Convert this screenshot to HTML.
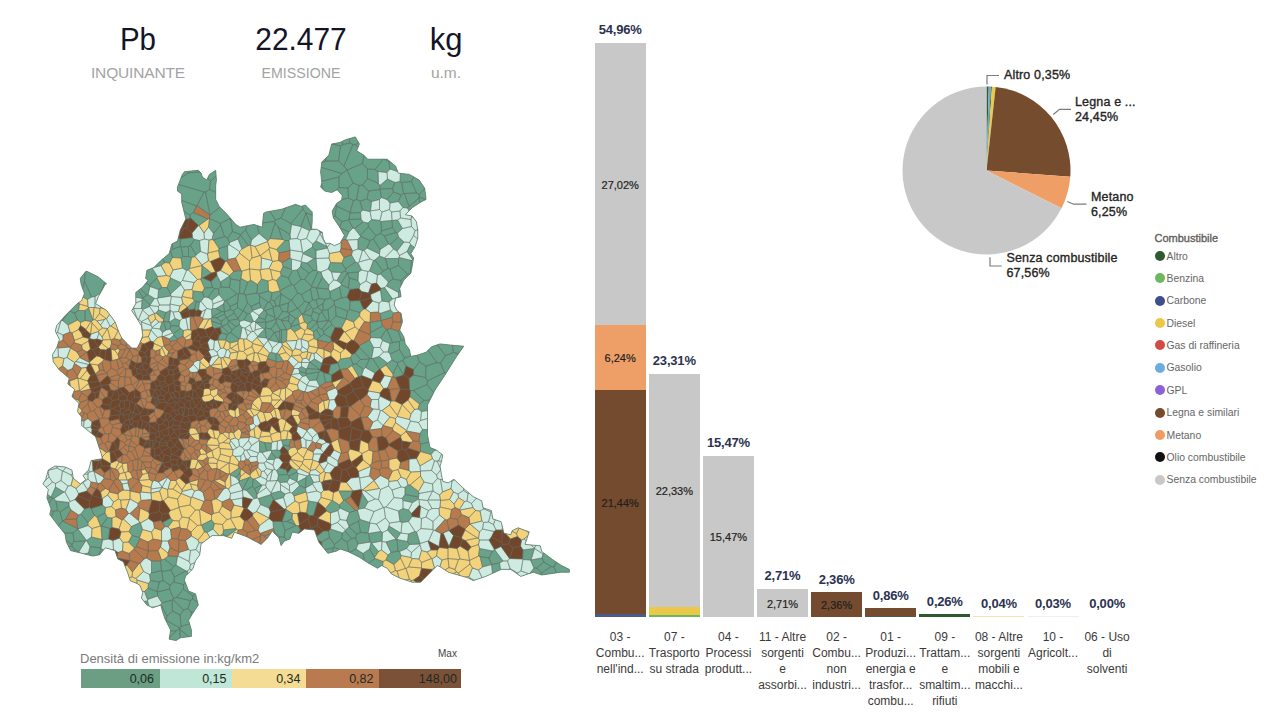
<!DOCTYPE html>
<html><head><meta charset="utf-8">
<style>
html,body{margin:0;padding:0;background:#fff;width:1280px;height:720px;overflow:hidden;position:relative;font-family:"Liberation Sans",sans-serif;}
.a{position:absolute;white-space:nowrap;}
.kpi{font-size:31px;color:#141428;line-height:32px;text-align:center;transform-origin:center;}
.kl{font-size:15.5px;color:#a3a3a3;line-height:18px;text-align:center;}
.bv{font-weight:bold;font-size:13px;color:#2b3250;line-height:14px;text-align:center;width:80px;letter-spacing:-0.2px;}
.iv{font-size:11px;color:#1f1f1f;-webkit-text-stroke:0.2px #1f1f1f;line-height:12px;text-align:center;width:51px;}
.cat{font-size:12px;color:#3b3a39;line-height:16px;text-align:center;width:60px;}
.pl{font-size:12.5px;color:#252423;line-height:14.5px;font-weight:normal;-webkit-text-stroke:0.35px #252423;letter-spacing:0.15px;}
.lg{font-size:10.4px;color:#666;line-height:12px;}
.dot{position:absolute;width:10px;height:10px;border-radius:50%;}
</style></head><body>
<!-- KPIs -->
<div class="a kpi" style="left:88px;top:24px;width:100px;transform:scaleX(0.95)">Pb</div>
<div class="a kl" style="left:78px;top:63.5px;width:120px;letter-spacing:-0.15px">INQUINANTE</div>
<div class="a kpi" style="left:241px;top:24px;width:120px;transform:scaleX(0.965)">22.477</div>
<div class="a kl" style="left:241px;top:63.5px;width:120px;transform:scaleX(0.915)">EMISSIONE</div>
<div class="a kpi" style="left:396px;top:24px;width:100px;transform:scaleX(1.0)">kg</div>
<div class="a kl" style="left:396px;top:64px;width:100px">u.m.</div>

<svg width="1280" height="720" style="position:absolute;left:0;top:0">
<defs><clipPath id="cp"><polygon points="182.4,174.4 184.4,171.7 198.3,170.3 201.1,173.1 202.5,177.2 206.7,180.0 209.4,174.4 215.7,170.3 216.4,180.0 215.7,185.6 215.7,199.4 219.2,206.4 226.1,213.3 235.8,224.4 240.0,227.2 253.9,224.4 262.2,227.2 263.6,213.3 266.4,211.9 281.7,209.2 295.6,204.3 301.1,206.4 305.3,205.0 312.2,211.9 312.2,221.7 311.5,229.0 316.7,229.4 322.2,232.2 323.3,238.9 325.6,243.3 330.0,243.3 334.4,245.6 340.0,243.3 344.4,235.6 340.0,227.8 333.3,217.8 332.2,211.1 336.7,203.3 341.7,200.0 342.2,195.6 337.2,189.7 331.7,192.5 324.7,191.1 320.6,186.9 321.9,182.8 320.6,171.7 321.9,161.9 328.9,155.0 331.7,143.9 340.0,142.5 345.6,139.7 355.3,136.9 359.4,143.9 356.7,150.8 363.6,155.0 367.8,159.2 387.2,159.2 395.6,166.1 398.3,173.1 409.4,174.4 419.2,180.0 424.7,188.3 426.1,199.4 420.6,202.2 412.2,207.8 405.3,214.7 412.2,216.1 416.4,221.7 417.8,230.0 417.8,238.3 415.0,246.7 410.8,253.6 413.6,257.8 412.2,266.1 410.8,273.1 403.9,280.0 399.7,288.3 401.1,296.7 395.6,298.1 394.2,305.0 396.9,310.6 401.1,313.3 402.5,321.7 399.7,330.0 403.9,336.9 405.3,343.9 409.4,349.4 410.8,356.4 417.8,355.0 426.1,352.2 431.7,346.7 440.0,343.9 450.0,345.0 463.8,346.2 457.5,355.0 445.0,375.0 435.0,390.0 427.5,405.0 427.5,435.0 430.0,447.5 436.2,450.0 442.8,455.0 441.4,461.9 440.0,466.1 441.4,474.4 442.8,481.4 448.3,482.8 453.9,479.3 465.0,489.7 473.3,496.7 481.7,500.8 483.1,507.8 491.4,510.6 492.8,518.9 501.1,521.7 502.5,527.2 503.9,533.3 510.8,534.7 512.2,530.6 518.1,527.8 529.2,531.9 525.0,544.4 540.3,545.8 541.7,551.4 547.2,555.6 552.8,559.7 561.1,565.3 569.4,569.4 569.4,572.2 561.1,572.2 541.7,575.0 533.3,572.2 520.8,576.4 510.8,569.4 501.1,569.4 485.8,576.4 473.3,580.6 467.8,577.8 448.3,572.2 440.0,566.7 437.2,565.6 434.4,568.3 426.1,576.7 420.6,582.2 412.2,582.2 399.7,578.1 391.4,573.9 387.2,568.3 381.7,565.6 377.5,568.3 367.8,562.8 359.4,557.2 348.3,551.7 340.0,548.9 336.7,551.1 327.8,553.3 318.9,542.2 314.4,530.0 304.4,528.9 298.9,533.3 292.2,532.2 290.0,538.9 284.4,541.1 281.1,545.6 278.9,537.8 272.2,531.1 267.8,537.8 261.1,544.4 246.7,536.7 234.4,532.2 231.7,538.3 223.3,535.6 212.2,535.6 201.1,543.9 199.7,555.0 195.6,560.6 192.8,568.9 185.8,575.8 184.4,580.0 188.6,591.1 195.6,593.9 198.3,605.0 192.8,613.3 188.6,620.3 191.4,630.0 191.4,636.4 180.3,637.8 176.1,640.6 169.2,639.2 170.6,630.0 169.2,627.2 165.0,618.9 162.2,610.6 160.8,605.0 152.5,607.8 146.9,605.0 141.4,598.1 142.8,592.5 140.0,585.6 137.2,583.6 130.3,580.8 127.5,572.5 123.3,561.7 117.8,558.9 115.0,550.6 105.3,547.8 99.7,554.7 92.8,556.1 81.7,553.3 70.6,550.6 66.4,542.2 65.0,533.9 58.1,525.6 49.7,514.4 51.1,508.9 46.9,497.8 48.3,489.4 42.8,483.9 45.6,479.7 48.3,470.0 55.0,466.0 65.0,467.0 71.9,470.0 73.3,478.3 80.3,483.9 85.8,479.7 83.0,475.6 88.6,470.0 91.2,460.6 102.5,458.7 101.1,453.3 98.3,445.0 95.6,436.7 88.6,431.1 81.7,425.6 81.7,417.2 77.5,411.7 78.9,403.3 71.9,396.4 74.7,389.4 67.8,383.9 69.2,378.3 59.4,370.0 53.2,361.7 52.5,354.7 56.7,347.8 59.4,339.4 55.3,331.1 56.7,325.6 65.0,315.8 77.5,303.3 81.7,300.6 84.4,293.6 81.0,283.9 80.3,278.3 85.8,271.4 87.2,271.4 98.3,276.9 106.7,283.9 105.3,284.2 98.3,296.7 95.6,303.6 106.7,310.6 110.8,316.1 115.0,321.7 119.2,332.8 121.9,338.3 127.5,343.9 131.7,348.1 137.2,348.1 140.0,342.5 142.8,335.6 141.4,325.8 137.2,318.9 131.7,310.6 135.8,303.6 135.8,292.5 142.8,286.9 148.3,280.0 145.6,278.6 146.9,270.3 153.9,267.5 160.8,260.6 169.2,253.6 171.9,243.9 177.5,241.1 180.3,230.0 181.7,227.2 185.8,218.9 184.4,213.3 181.7,202.2 181.7,193.9 177.5,191.1 177.5,186.9"/></clipPath></defs>
<polygon points="182.4,174.4 184.4,171.7 198.3,170.3 201.1,173.1 202.5,177.2 206.7,180.0 209.4,174.4 215.7,170.3 216.4,180.0 215.7,185.6 215.7,199.4 219.2,206.4 226.1,213.3 235.8,224.4 240.0,227.2 253.9,224.4 262.2,227.2 263.6,213.3 266.4,211.9 281.7,209.2 295.6,204.3 301.1,206.4 305.3,205.0 312.2,211.9 312.2,221.7 311.5,229.0 316.7,229.4 322.2,232.2 323.3,238.9 325.6,243.3 330.0,243.3 334.4,245.6 340.0,243.3 344.4,235.6 340.0,227.8 333.3,217.8 332.2,211.1 336.7,203.3 341.7,200.0 342.2,195.6 337.2,189.7 331.7,192.5 324.7,191.1 320.6,186.9 321.9,182.8 320.6,171.7 321.9,161.9 328.9,155.0 331.7,143.9 340.0,142.5 345.6,139.7 355.3,136.9 359.4,143.9 356.7,150.8 363.6,155.0 367.8,159.2 387.2,159.2 395.6,166.1 398.3,173.1 409.4,174.4 419.2,180.0 424.7,188.3 426.1,199.4 420.6,202.2 412.2,207.8 405.3,214.7 412.2,216.1 416.4,221.7 417.8,230.0 417.8,238.3 415.0,246.7 410.8,253.6 413.6,257.8 412.2,266.1 410.8,273.1 403.9,280.0 399.7,288.3 401.1,296.7 395.6,298.1 394.2,305.0 396.9,310.6 401.1,313.3 402.5,321.7 399.7,330.0 403.9,336.9 405.3,343.9 409.4,349.4 410.8,356.4 417.8,355.0 426.1,352.2 431.7,346.7 440.0,343.9 450.0,345.0 463.8,346.2 457.5,355.0 445.0,375.0 435.0,390.0 427.5,405.0 427.5,435.0 430.0,447.5 436.2,450.0 442.8,455.0 441.4,461.9 440.0,466.1 441.4,474.4 442.8,481.4 448.3,482.8 453.9,479.3 465.0,489.7 473.3,496.7 481.7,500.8 483.1,507.8 491.4,510.6 492.8,518.9 501.1,521.7 502.5,527.2 503.9,533.3 510.8,534.7 512.2,530.6 518.1,527.8 529.2,531.9 525.0,544.4 540.3,545.8 541.7,551.4 547.2,555.6 552.8,559.7 561.1,565.3 569.4,569.4 569.4,572.2 561.1,572.2 541.7,575.0 533.3,572.2 520.8,576.4 510.8,569.4 501.1,569.4 485.8,576.4 473.3,580.6 467.8,577.8 448.3,572.2 440.0,566.7 437.2,565.6 434.4,568.3 426.1,576.7 420.6,582.2 412.2,582.2 399.7,578.1 391.4,573.9 387.2,568.3 381.7,565.6 377.5,568.3 367.8,562.8 359.4,557.2 348.3,551.7 340.0,548.9 336.7,551.1 327.8,553.3 318.9,542.2 314.4,530.0 304.4,528.9 298.9,533.3 292.2,532.2 290.0,538.9 284.4,541.1 281.1,545.6 278.9,537.8 272.2,531.1 267.8,537.8 261.1,544.4 246.7,536.7 234.4,532.2 231.7,538.3 223.3,535.6 212.2,535.6 201.1,543.9 199.7,555.0 195.6,560.6 192.8,568.9 185.8,575.8 184.4,580.0 188.6,591.1 195.6,593.9 198.3,605.0 192.8,613.3 188.6,620.3 191.4,630.0 191.4,636.4 180.3,637.8 176.1,640.6 169.2,639.2 170.6,630.0 169.2,627.2 165.0,618.9 162.2,610.6 160.8,605.0 152.5,607.8 146.9,605.0 141.4,598.1 142.8,592.5 140.0,585.6 137.2,583.6 130.3,580.8 127.5,572.5 123.3,561.7 117.8,558.9 115.0,550.6 105.3,547.8 99.7,554.7 92.8,556.1 81.7,553.3 70.6,550.6 66.4,542.2 65.0,533.9 58.1,525.6 49.7,514.4 51.1,508.9 46.9,497.8 48.3,489.4 42.8,483.9 45.6,479.7 48.3,470.0 55.0,466.0 65.0,467.0 71.9,470.0 73.3,478.3 80.3,483.9 85.8,479.7 83.0,475.6 88.6,470.0 91.2,460.6 102.5,458.7 101.1,453.3 98.3,445.0 95.6,436.7 88.6,431.1 81.7,425.6 81.7,417.2 77.5,411.7 78.9,403.3 71.9,396.4 74.7,389.4 67.8,383.9 69.2,378.3 59.4,370.0 53.2,361.7 52.5,354.7 56.7,347.8 59.4,339.4 55.3,331.1 56.7,325.6 65.0,315.8 77.5,303.3 81.7,300.6 84.4,293.6 81.0,283.9 80.3,278.3 85.8,271.4 87.2,271.4 98.3,276.9 106.7,283.9 105.3,284.2 98.3,296.7 95.6,303.6 106.7,310.6 110.8,316.1 115.0,321.7 119.2,332.8 121.9,338.3 127.5,343.9 131.7,348.1 137.2,348.1 140.0,342.5 142.8,335.6 141.4,325.8 137.2,318.9 131.7,310.6 135.8,303.6 135.8,292.5 142.8,286.9 148.3,280.0 145.6,278.6 146.9,270.3 153.9,267.5 160.8,260.6 169.2,253.6 171.9,243.9 177.5,241.1 180.3,230.0 181.7,227.2 185.8,218.9 184.4,213.3 181.7,202.2 181.7,193.9 177.5,191.1 177.5,186.9" fill="#68a288"/>
<g clip-path="url(#cp)">
<defs>
<path id="pG" d="M666 234 656 282 536 294 521 263 459 72 59 -1728 621 -2384 674 143ZM666 234 656 282 661 287 681 292 686 289ZM666 234 686 289 700 286 674 143ZM674 143 621 -2384 632 -2397 722 277 712 290 706 289 700 286ZM722 277 632 -2397 2000 -4050 2731 -2349 876 158 771 269ZM728 311 712 290 722 277 771 269 755 302ZM556 320 617 338 633 332 651 322 661 287 656 282 536 294 538 300ZM677 322 681 292 661 287 651 322ZM686 289 681 292 677 322 688 332 706 289 700 286ZM725 327 694 340 694 340 688 332 706 289 712 290 728 311ZM767 318 755 302 771 269 876 158 801 309 778 323ZM318 369 202 341 85 299 -650 -338 -994 -653 59 -1728 459 72 434 177 405 279 376 346 347 366ZM376 346 405 279 400 344ZM414 353 400 344 405 279 434 177ZM421 363 521 263 459 72 434 177 414 353ZM684 347 633 332 651 322 677 322 688 332 694 340ZM750 339 735 338 725 327 728 311 755 302 767 318ZM750 339 767 318 778 323 780 338 774 345 756 343ZM778 323 801 309 809 337 808 338 801 345 780 338ZM801 309 876 158 2731 -2349 3233 -1230 1027 234 809 337ZM808 338 828 353 909 318 1027 234 809 337ZM411 384 408 384 347 366 376 346 400 344 414 353 421 363 419 379ZM678 354 684 347 633 332 617 338 641 363ZM735 357 735 338 725 327 694 340 706 366 718 371 725 370ZM757 367 756 343 750 339 735 338 735 357ZM808 338 828 353 823 363 803 365 800 363 801 345ZM487 384 488 384 538 300 536 294 521 263 421 363 419 379 461 398 462 398ZM678 375 661 395 652 393 641 363 678 354ZM678 375 696 376 706 366 694 340 694 340 684 347 678 354ZM757 367 735 357 725 370 737 382 760 379 760 378 760 371ZM760 371 775 358 790 365 785 377 760 378ZM787 384 802 390 807 387 803 365 800 363 790 365 785 377ZM803 365 823 363 833 386 809 387 807 387ZM909 318 838 389 833 386 823 363 828 353ZM561 340 582 390 603 407 649 396 652 393 641 363 617 338 556 320ZM678 375 696 376 697 396 670 403 661 395ZM697 396 707 401 713 399 718 371 706 366 696 376ZM734 398 737 382 725 370 718 371 713 399 720 402ZM743 403 759 399 763 395 760 379 737 382 734 398ZM760 379 763 395 774 399 787 384 785 377 760 378ZM774 399 780 406 797 403 802 390 787 384ZM838 396 818 413 809 387 833 386 838 389 839 394ZM909 318 838 389 839 394 926 433 1154 463 3647 -340 3233 -1230 1027 234ZM380 430 387 425 393 412 338 391 358 417ZM394 411 408 384 347 366 318 369 338 391 393 412ZM420 430 420 430 394 411 408 384 411 384ZM420 430 411 384 419 379 461 398ZM525 419 488 384 538 300 556 320 561 340 536 417ZM562 436 582 390 561 340 536 417 551 440ZM612 426 641 435 649 396 603 407 606 418 612 426ZM697 396 707 401 700 425 673 412 670 403ZM700 426 700 425 707 401 713 399 720 402 725 420 721 425ZM725 420 720 402 734 398 743 403 741 422 740 423ZM802 390 797 403 806 415 815 416 818 413 809 387 807 387ZM823 430 815 416 818 413 838 396 841 409 838 417ZM865 434 926 433 839 394 838 396 841 409ZM340 451 352 446 353 444 358 417 338 391 318 369 202 341 340 451ZM353 444 358 417 380 430 380 435 379 437ZM397 451 398 451 416 438 387 425 380 430 380 435ZM419 437 441 447 460 437 462 398 461 398 420 430 420 430 419 437ZM495 448 461 438 460 437 462 398 487 384 504 444ZM511 445 525 419 488 384 487 384 504 444ZM551 440 536 417 525 419 511 445 514 447 549 443ZM582 447 606 418 603 407 582 390 562 436ZM641 435 649 396 652 393 661 395 670 403 673 412 670 432 654 441 644 440ZM700 426 700 425 673 412 670 432 684 443 697 440 698 439ZM700 426 721 425 722 438 698 439ZM846 432 860 436 865 434 841 409 838 417ZM419 437 441 447 441 450 427 467 417 454ZM491 460 481 469 465 463 461 438 495 448ZM583 449 580 469 556 454 550 446 549 443 551 440 562 436 582 447ZM583 449 602 453 612 426 606 418 582 447ZM603 454 602 453 612 426 612 426 623 459 619 461ZM623 459 636 458 644 440 641 435 612 426ZM644 440 654 441 666 458 661 469 640 465 636 458ZM679 455 684 443 670 432 654 441 666 458 678 456ZM679 455 698 464 706 456 697 440 684 443ZM698 439 697 440 706 456 709 457 726 444 722 438ZM736 446 737 454 720 471 709 457 726 444ZM736 446 737 454 752 471 761 467 763 462 762 443 760 441 743 439ZM785 455 784 441 762 443 763 462ZM792 465 795 466 805 457 795 440 784 441 784 441 785 455ZM427 480 449 473 441 450 427 467 424 479ZM449 473 455 476 465 463 461 438 460 437 441 447 441 450ZM476 478 459 485 455 476 465 463 481 469 481 470ZM481 470 481 469 491 460 503 480 501 490 497 491ZM503 480 491 460 495 448 504 444 511 445 514 447 518 467ZM536 482 518 467 514 447 549 443 550 446 540 477ZM540 477 550 446 556 454 565 479ZM565 479 556 454 580 469 581 478 578 481 570 481ZM678 456 684 480 682 481 667 480 661 469 666 458ZM679 455 698 464 691 479 684 480 678 456ZM740 481 747 478 752 471 737 454 720 471 721 473ZM792 465 769 472 761 467 763 462 785 455ZM792 465 795 466 797 474 780 489 777 488 769 472ZM341 477 346 498 341 503 325 498 315 484 335 474ZM341 477 346 498 361 493 360 478 358 476ZM361 493 362 494 377 493 381 491 389 479 385 475 360 478ZM389 479 399 481 401 503 392 510 381 491ZM438 497 455 492 458 489 459 485 455 476 449 473 427 480ZM476 478 484 498 497 491 481 470ZM558 506 580 501 580 500 578 481 570 481 553 499ZM625 494 625 488 632 482 654 493 655 494 655 496 632 501ZM716 498 725 501 728 501 734 496 740 481 721 473 716 479ZM734 496 759 508 760 499 747 478 740 481ZM761 467 752 471 747 478 760 499 777 488 769 472ZM808 484 797 474 780 489 787 498 794 502ZM288 526 238 460 315 484 325 498 321 512ZM330 525 321 512 325 498 341 503 345 515 339 526ZM361 493 362 494 366 513 362 516 345 515 341 503 346 498ZM362 494 366 513 377 513 377 493ZM377 493 381 491 392 510 390 513 383 515 377 513ZM438 497 455 492 456 519 453 522 451 522 440 515 437 501ZM628 517 632 517 632 517 632 501 625 494 606 506 606 507ZM821 489 833 498 838 505 838 511 825 519 814 503ZM838 505 878 482 1114 481 955 571 919 584 838 511ZM322 531 304 536 289 529 288 526 321 512 330 525ZM366 513 362 516 365 536 373 541 377 540 379 537 383 515 377 513ZM566 533 564 525 580 516 583 518 583 539ZM603 524 601 533 618 546 627 541 614 526ZM614 526 627 541 634 541 632 517 628 517ZM691 542 691 538 684 526 661 525 656 538 663 544 683 545ZM688 515 684 526 691 538 711 524 703 510ZM695 546 717 544 723 540 716 526 711 524 691 538 691 542ZM766 542 750 520 747 521 739 542 755 550 761 548ZM776 537 766 542 750 520 759 512 769 516 771 517ZM780 538 797 531 797 517 771 517 776 537ZM797 531 815 548 821 547 823 521 798 515 797 517ZM825 519 838 511 919 584 916 585 821 547 823 521ZM280 559 269 565 268 566 252 570 232 563 216 549 176 468 152 396 238 460 288 526 289 529ZM299 570 280 559 289 529 304 536 315 553 314 556ZM404 531 403 556 406 556 423 546ZM459 552 461 558 480 561 482 557 484 542 482 541 467 543 459 551ZM562 551 577 556 585 541 583 539 566 533 561 544ZM585 541 594 540 602 559 588 571 583 569 577 556ZM594 540 602 559 609 559 618 546 601 533ZM609 559 623 572 636 543 634 541 627 541 618 546ZM695 546 682 567 674 561 683 545 691 542 695 546ZM695 546 699 556 716 561 717 544 695 546ZM780 538 786 558 777 564 761 548 766 542 776 537ZM780 538 786 558 802 561 815 548 797 531ZM299 570 280 559 269 565 293 590 296 589 300 573ZM299 570 314 556 324 575 317 579 300 573ZM361 565 341 556 334 575 341 588 362 569ZM422 563 425 575 409 576 401 558 403 556 406 556ZM422 563 425 575 429 577 437 578 442 574 441 564 434 551ZM459 552 441 564 442 574 459 575 461 558ZM477 588 474 588 459 575 461 558 480 561 479 587ZM479 587 480 561 482 557 496 564 487 588ZM501 560 496 564 487 588 491 590 514 586 515 569ZM515 569 514 586 517 588 537 582 536 562 523 558ZM562 551 577 556 583 569 560 581 553 561ZM621 578 603 589 595 586 588 571 602 559 609 559 623 572 624 574ZM624 574 623 572 636 543 642 544 645 554 634 576 633 576ZM657 578 634 576 645 554 658 570ZM695 546 699 556 697 576 683 570 682 567ZM699 556 716 561 720 569 718 577 700 579 697 576ZM786 558 802 561 803 573 797 585 773 572 777 564ZM802 561 803 573 878 601 887 602 912 589 916 585 821 547 815 548ZM162 592 153 597 129 597 114 588 -650 -338 85 299 152 396 176 468 169 562ZM183 594 169 562 162 592 175 599ZM183 594 169 562 176 468 216 549 201 586 190 593ZM230 599 228 601 214 602 204 598 201 586 216 549 232 563 230 598ZM230 598 232 563 252 570 260 592 259 596 250 606ZM252 570 260 592 285 597 286 596 268 566ZM268 566 269 565 293 590 286 596 286 596ZM317 579 316 596 342 592 341 588 334 575 324 575ZM389 602 393 603 399 604 402 603 408 594 405 584 386 582 385 597ZM425 575 429 577 416 595 408 594 405 584 409 576ZM438 589 437 578 429 577 416 595 424 600ZM442 574 437 578 438 589 447 600 449 602 452 601 474 588 459 575ZM539 604 536 604 519 592 517 588 537 582 544 585 542 599ZM542 599 544 585 559 582 562 588 549 602ZM581 600 562 588 562 588 559 582 560 581 583 569 588 571 595 586 583 600ZM618 606 625 600 621 578 603 589 609 603 618 605ZM632 600 638 597 633 576 624 574 621 578 625 600ZM633 576 634 576 657 578 660 583 661 596 650 599 638 597ZM660 583 661 596 668 602 683 596 679 574ZM679 574 683 570 697 576 700 579 694 594 683 596ZM764 602 761 580 762 577 769 575 785 598 778 604ZM797 594 797 585 803 573 878 601 806 602ZM159 608 153 597 129 597 139 622 149 626 157 621ZM286 596 286 596 300 610 300 611 299 613 285 619 283 617 284 601 285 597ZM296 589 293 590 286 596 300 610 309 597ZM389 602 393 603 389 618 377 620 377 619 375 614 375 614ZM397 619 399 604 393 603 389 618 393 622ZM461 619 449 624 447 608 449 602 452 601 460 613ZM449 624 444 623 432 617 447 608 449 624ZM460 613 452 601 474 588 477 588 475 606ZM461 619 467 622 475 615 475 606 460 613ZM475 615 486 622 495 606 491 590 487 588 479 587 477 588 475 606ZM500 627 505 622 505 621 502 613 495 606 486 622 486 622 495 627ZM495 606 491 590 514 586 517 588 519 592 519 605 502 613ZM505 621 502 613 519 605 522 615ZM528 620 531 621 546 616 547 614 539 604 536 604 527 619ZM527 619 536 604 519 592 519 605 522 615ZM552 612 559 612 559 611 562 588 562 588 549 602ZM539 604 547 614 552 612 549 602 542 599ZM581 600 562 588 559 611 577 606ZM575 624 565 623 559 612 559 611 577 606ZM583 600 595 586 603 589 609 603 596 617 595 617ZM578 625 595 617 583 600 581 600 577 606 575 624ZM618 606 623 615 608 626 618 605ZM618 605 609 603 596 617 604 628 604 628 606 628 608 626ZM618 606 625 600 632 600 636 613 635 615 626 618 623 615ZM636 613 646 607 650 599 638 597 632 600ZM650 599 661 596 668 602 669 609 656 619 646 621 646 607ZM644 622 646 621 646 607 636 613 635 615ZM671 613 669 609 668 602 683 596 694 594 700 602 699 619 695 622ZM720 625 699 619 700 602 719 601 720 602 727 618ZM114 588 -650 -338 -994 -653 -1771 -30 104 638 111 636ZM125 641 122 641 111 636 114 588 129 597 139 622ZM149 626 139 622 125 641 136 650 155 640ZM157 621 149 626 155 640 161 645 170 641 170 621ZM177 616 170 621 170 641 182 643 183 643 186 640 186 640ZM340 621 341 621 338 644 327 642 327 639 332 625ZM332 625 327 639 312 626 317 620ZM444 623 424 634 423 619 425 617 432 617ZM449 624 444 623 424 634 424 634 433 636 449 628ZM468 626 467 622 461 619 449 624 449 624 449 628 453 635 454 636ZM449 628 433 636 442 643 453 635ZM476 637 468 626 454 636 457 641 476 638ZM476 637 486 622 486 622 475 615 467 622 468 626ZM476 637 486 622 495 627 488 640 479 643 476 638ZM500 627 507 643 503 645 488 640 495 627ZM530 639 534 628 550 635 553 638 532 645 531 644ZM528 620 531 621 534 628 530 639 517 635 518 631ZM553 638 553 638 555 637 565 623 559 612 552 612 547 614 546 616 550 635ZM550 635 546 616 531 621 534 628ZM578 625 579 628 578 632 562 640 555 637 565 623 575 624ZM577 642 563 641 562 640 578 632ZM578 625 579 628 591 637 596 636 604 628 596 617 595 617ZM577 642 582 650 591 637 579 628 578 632ZM622 632 606 628 604 628 609 644 615 648 625 640ZM623 615 626 618 626 623 622 632 606 628 608 626ZM626 623 622 632 625 640 634 643 639 628ZM626 618 635 615 644 622 644 624 639 628 626 623ZM644 624 654 641 656 642 658 642 656 619 646 621 644 622ZM644 624 654 641 634 644 634 643 639 628ZM671 613 669 609 656 619 658 642 661 643 672 632ZM671 613 695 622 692 638 672 632ZM719 632 707 644 692 638 692 638 695 622 699 619 720 625ZM760 627 762 641 784 635 787 626 781 620ZM802 645 802 627 846 635 843 636 808 650 806 650ZM327 642 327 642 332 660 340 658 342 651 339 644 338 644ZM324 644 327 642 332 660 325 665 320 658ZM358 652 361 657 347 667 345 666 340 658 342 651ZM350 637 339 644 342 651 358 652 360 641ZM443 649 442 643 433 636 424 634 422 637 423 642ZM444 653 443 649 423 642 425 653 429 657 440 655ZM464 660 462 665 458 667 444 653 455 648ZM454 636 453 635 442 643 443 649 444 653 444 653 455 648 457 642 457 641ZM476 638 479 643 479 649 472 653 457 642 457 641ZM472 653 457 642 455 648 464 660ZM510 643 517 635 530 639 531 644 511 645ZM511 645 512 645 525 656 529 658 530 658 531 656 532 645 531 644ZM553 638 553 638 552 645 542 658 531 656 532 645ZM549 665 548 665 542 658 552 645 561 660 559 662ZM573 659 563 641 577 642 582 650 582 653 581 657 574 660ZM573 659 563 641 562 640 555 637 553 638 552 645 561 660 563 660ZM602 656 598 649 582 653 581 657 589 664ZM591 637 596 636 599 648 598 649 582 653 582 650ZM634 643 625 640 615 648 614 657 620 659 634 645 634 644ZM620 659 634 645 637 655 633 659 627 664ZM658 642 661 643 664 649 647 663 644 659 656 642ZM634 644 634 645 637 655 644 659 656 642 654 641ZM683 656 670 655 664 649 661 643 672 632 692 638 692 638ZM741 665 765 652 762 641 740 645ZM808 650 817 664 843 636ZM354 680 355 678 348 670 339 678 341 683ZM348 670 355 678 366 672 367 661 361 657 347 667ZM455 669 443 666 440 655 444 653 444 653 458 667ZM455 669 451 680 436 680 438 671 443 666ZM455 669 451 680 452 681 460 686 476 682 478 678 462 665 458 667ZM480 677 478 678 462 665 464 660 472 653 479 649 484 655ZM533 676 530 658 529 658 515 673 515 674ZM536 680 538 680 548 665 542 658 531 656 530 658 533 676ZM559 685 549 665 559 662 560 685ZM559 685 558 685 538 680 548 665 549 665ZM563 686 563 660 573 659 574 660 573 682 572 683 564 686ZM560 685 563 686 563 660 561 660 559 662ZM647 663 648 668 641 673 633 659 637 655 644 659ZM628 677 634 680 641 673 633 659 627 664 627 670ZM664 649 670 655 661 675 648 668 647 663ZM663 682 658 685 635 680 634 680 641 673 648 668 661 675ZM741 665 765 652 773 659 761 676 742 675 740 669ZM774 659 785 685 780 687 765 681 761 676 773 659ZM797 663 802 680 799 683 785 685 774 659 782 657ZM806 650 808 650 817 664 815 681 802 680 797 663ZM843 636 817 664 815 681 839 690 842 688 856 633 846 635ZM848 690 875 690 899 655 912 589 887 602 856 633 842 688ZM719 695 740 717 743 717 747 695 739 680 719 691ZM780 708 799 699 799 683 785 685 780 687 776 704ZM802 680 815 681 839 690 833 707 809 716 799 699 799 683ZM891 711 875 690 899 655 907 705ZM907 705 915 707 936 698 955 571 919 584 916 585 912 589 899 655ZM1494 717 3685 -269 3647 -340 1154 463 1114 481 955 571 936 698 1092 833 1132 834ZM535 717 552 723 552 707 543 705 539 706 536 713ZM552 723 553 724 567 722 558 709 555 706 552 707ZM712 728 721 719 710 706 704 709 701 715 706 728ZM719 695 710 706 721 719 739 718 740 717ZM784 720 795 725 806 721 809 716 799 699 780 708ZM848 690 874 725 852 732 839 724 833 707 839 690 842 688ZM848 690 875 690 891 711 881 726 874 725ZM639 739 620 724 619 725 614 737ZM640 739 644 728 644 727 629 718 620 724 620 724 639 739ZM680 739 676 726 661 729 657 748 663 750ZM681 739 695 737 704 731 706 728 701 715 681 718 676 725 676 726 680 739ZM712 728 727 739 723 751 720 753 717 753 704 731 706 728ZM712 728 727 739 731 735 739 718 721 719ZM743 717 745 717 759 738 750 746 731 735 739 718 740 717ZM772 730 775 726 758 713 745 717 759 738 760 738ZM786 748 795 729 795 725 784 720 775 726 772 730ZM795 725 806 721 812 732 807 750 807 750 795 729ZM809 716 833 707 839 724 827 739 812 732 806 721ZM881 726 891 711 907 705 915 707 927 761 903 756 889 745ZM915 707 927 761 1053 836 1092 833 936 698ZM612 746 613 748 612 751 605 753 599 747 599 743ZM612 746 599 743 597 737 603 733 612 738ZM612 746 613 748 638 744 640 741 640 739 639 739 614 737 612 738ZM613 748 638 744 633 760 619 761 612 751ZM640 741 647 745 651 765 640 772 639 772 633 760 638 744ZM647 745 657 748 663 750 663 763 651 765ZM786 748 795 729 807 750 791 755 786 753ZM839 724 827 739 827 750 851 755 852 732ZM874 725 881 726 889 745 855 762 851 755 852 732ZM818 757 827 750 851 755 855 762 854 769 827 781 821 781 819 779ZM855 762 854 769 868 786 873 787 903 756 889 745ZM839 808 848 801 827 781 821 781 820 793ZM858 800 868 786 854 769 827 781 848 801ZM1047 838 1053 836 927 761 903 756 873 787 909 818 956 840ZM836 818 843 823 861 820 862 819 858 800 848 801 839 808ZM862 819 909 818 873 787 868 786 858 800ZM838 883 841 888 863 883 867 876 863 867 855 859 845 859 840 867ZM863 867 867 876 892 879 954 841 899 846ZM542 901 534 902 529 885 543 886ZM534 902 524 905 519 904 519 882 529 885ZM563 880 566 890 578 892 582 879 573 879ZM576 902 581 896 578 892 566 890 566 892ZM869 901 863 883 841 888 841 903 862 909ZM883 898 892 879 867 876 863 883 869 901ZM560 901 554 900 543 901 543 905 552 916 558 916 562 908ZM552 916 549 919 535 919 543 905ZM472 955 478 962 481 953 480 945ZM472 955 461 950 460 948 478 936 482 938 480 945ZM575 949 557 950 555 961 560 965 574 964 579 956 578 952ZM575 946 572 939 559 936 553 941 557 950 575 949ZM596 947 594 963 579 956 578 952 594 944ZM594 944 578 952 575 949 575 946 584 935 594 941ZM498 955 485 979 485 980 492 980 505 973 506 958 501 954ZM478 962 498 955 485 979 478 965ZM514 988 524 970 523 970 509 977ZM509 977 523 970 509 958 506 958 505 973ZM612 955 595 964 599 971 611 976 611 976ZM619 949 627 965 625 968 611 976 612 955 614 952ZM-2504 896 -2975 902 -3329 1148 32 1028 102 994 85 981 73 978 -655 943ZM102 994 104 996 108 997 128 984 111 974ZM514 996 514 988 514 988 509 977 505 973 492 980 508 997ZM570 988 567 995 548 1000 547 999 542 989 542 987 561 982ZM611 976 612 984 588 992 584 986 599 971ZM690 1000 701 993 705 982 678 982 687 1001ZM837 998 825 1005 806 1001 804 997 810 989 837 994ZM810 975 810 989 837 994 838 987 837 983 820 970 816 970ZM65 1029 32 1028 102 994 102 994 104 996 93 1017ZM115 1021 107 1023 93 1017 104 996 108 997 112 1002ZM120 1024 115 1021 112 1002 138 1005 138 1012ZM521 1009 538 1016 547 999 542 989 517 997ZM619 1031 613 1026 617 1002 635 1005 627 1031ZM653 1022 651 1017 664 1001 665 1001 679 1010 680 1016 676 1021 661 1026ZM690 1000 711 1021 699 1025 680 1016 679 1010 687 1001ZM717 1016 718 1018 729 1016 736 1004 724 986ZM65 1029 93 1017 107 1023 99 1044ZM125 1042 115 1054 109 1055 99 1044 107 1023 115 1021 120 1024ZM125 1042 125 1042 120 1024 138 1012 142 1020 131 1039ZM169 1018 179 1015 182 1017 189 1031 176 1045 162 1028ZM194 1034 189 1031 182 1017 205 1010 211 1015 210 1026ZM202 1052 201 1052 194 1034 210 1026 215 1035 203 1052ZM584 1037 585 1027 572 1019 564 1043 564 1043 574 1043ZM715 1021 720 1039 717 1042 698 1052 693 1041 699 1025 711 1021ZM824 1033 823 1027 817 1020 806 1017 797 1022 800 1043 804 1045 817 1043ZM65 1029 32 1028 -3329 1148 -4577 2000 -3182 2589 95 1075 109 1055 99 1044ZM155 1057 155 1058 146 1066 128 1066 115 1054 125 1042 125 1042ZM155 1057 155 1058 156 1058 176 1051 176 1045 162 1028 157 1030 153 1038ZM224 1055 220 1057 203 1052 215 1035 224 1036ZM341 1036 325 1045 330 1053 336 1054 346 1041ZM409 1064 403 1050 423 1040 429 1047 426 1058 414 1065ZM559 1074 568 1074 570 1061 564 1043 564 1043 546 1043 547 1057 549 1065ZM591 1050 592 1051 570 1061 564 1043 574 1043ZM584 1037 574 1043 591 1050ZM721 1065 717 1042 698 1052 698 1054 714 1068ZM736 1066 721 1065 717 1042 720 1039 739 1045 740 1046ZM115 1054 109 1055 95 1075 118 1090 127 1077 128 1066ZM146 1066 128 1066 127 1077 144 1089 148 1083ZM156 1058 173 1081 171 1082 148 1083 146 1066 155 1058ZM217 1078 220 1057 203 1052 202 1052 204 1079 205 1080ZM258 1063 264 1071 279 1075 285 1059 281 1046 280 1045 263 1053ZM473 1059 454 1073 446 1068 447 1060 472 1057ZM529 1072 549 1065 559 1074 545 1084ZM597 1052 601 1060 589 1077 574 1081 568 1074 570 1061 592 1051ZM657 1062 659 1075 643 1084 629 1076 647 1062ZM661 1058 685 1066 683 1077 669 1089 659 1075 657 1062ZM685 1066 683 1077 694 1084 703 1077 690 1062ZM690 1062 691 1060 698 1054 714 1068 711 1076 703 1077ZM736 1066 721 1065 714 1068 711 1076 716 1088 740 1084 737 1067ZM765 1065 762 1063 737 1067 740 1084 742 1086 743 1086 764 1082ZM801 1066 778 1052 775 1060 792 1078 793 1079ZM840 1087 840 1088 819 1089 815 1083 817 1068 830 1063 833 1064ZM118 1090 95 1075 -3182 2589 -1622 3258 -387 1875 105 1158 121 1099ZM127 1077 118 1090 121 1099 144 1092 144 1089ZM148 1083 144 1089 144 1092 149 1099 158 1103 171 1082ZM202 1096 180 1093 173 1081 183 1074 204 1079 205 1080ZM280 1077 272 1093 269 1096 257 1084 264 1071 279 1075ZM460 1083 444 1110 434 1100 433 1079 439 1072 446 1068 454 1073ZM545 1084 559 1074 568 1074 574 1081 572 1107 540 1100 540 1100ZM572 1107 587 1134 614 1097 589 1077 574 1081ZM666 1096 645 1100 643 1084 659 1075 669 1089 668 1094ZM668 1094 691 1104 698 1105 698 1105 694 1084 683 1077 669 1089ZM694 1084 698 1105 712 1098 716 1088 711 1076 703 1077ZM793 1079 792 1078 772 1084 782 1105 796 1102 794 1079ZM794 1079 796 1102 799 1103 813 1097 819 1089 815 1083ZM144 1092 121 1099 105 1158 122 1144 149 1099ZM163 1109 158 1103 149 1099 122 1144 161 1121ZM192 1119 177 1106 163 1109 161 1121 175 1130 193 1122ZM202 1096 180 1093 177 1106 192 1119 203 1098ZM203 1098 192 1119 193 1122 199 1128 217 1114 215 1103ZM540 1100 565 1291 582 1306 587 1134 572 1107ZM638 1106 652 1166 651 1222 650 1227 617 1351 582 1306 587 1134 614 1097 615 1096ZM666 1096 664 1127 652 1166 638 1106 645 1100ZM666 1096 664 1127 691 1104 668 1094ZM652 1166 651 1222 701 1127 698 1105 691 1104 664 1127ZM729 1124 701 1127 698 1105 698 1105 712 1098 726 1107ZM735 1128 750 1117 749 1115 739 1098 726 1107 729 1124 734 1127ZM739 1098 742 1086 743 1086 757 1103 749 1115ZM788 1129 772 1120 776 1110 782 1105 796 1102 799 1103 802 1111 801 1116ZM978 1116 960 1113 957 1112 959 1097 985 1102ZM978 1116 983 1129 983 1129 999 1126 1006 1122 989 1099 985 1102ZM1069 1097 1062 1120 1061 1120 1046 1119 1045 1118 1046 1100ZM1084 1116 1088 1124 1102 1133 1108 1134 1115 1120 1099 1099 1086 1108ZM1261 946 1101 1091 1099 1099 1115 1120 1145 1107 1280 931ZM161 1121 122 1144 105 1158 -387 1875 21 1452 136 1287 153 1255 175 1130ZM199 1128 193 1122 175 1130 153 1255 215 1158 213 1153ZM217 1114 199 1128 213 1153 220 1116ZM321 1122 303 1122 303 1146 323 1141ZM329 1118 347 1133 342 1140 324 1143 323 1141 321 1122 323 1120ZM336 1112 355 1113 352 1130 347 1133 329 1118ZM734 1127 650 1227 651 1222 701 1127 729 1124ZM735 1128 742 1143 765 1135 766 1123 750 1117ZM978 1116 983 1129 965 1134 960 1113ZM983 1129 985 1146 1002 1146 999 1126ZM1084 1116 1088 1124 1073 1136 1068 1136 1061 1120 1062 1120ZM1088 1124 1073 1136 1083 1146 1102 1133ZM1115 1120 1145 1107 1143 1140 1122 1168 1122 1167 1108 1134ZM1280 931 1145 1107 1143 1140 4928 2225 5154 2000 3685 -269 1494 717ZM324 1143 326 1161 319 1164 301 1161 299 1149 303 1146 323 1141ZM324 1143 326 1161 340 1170 348 1164 349 1154 342 1140ZM347 1133 352 1130 372 1142 349 1154 342 1140ZM375 1142 376 1162 367 1169 348 1164 349 1154 372 1142ZM735 1128 742 1143 741 1171 737 1201 646 1415 617 1351 650 1227 734 1127ZM765 1135 766 1136 741 1171 742 1143ZM1073 1136 1068 1136 1059 1148 1062 1155 1065 1159 1079 1162 1082 1160 1083 1146ZM1102 1133 1108 1134 1122 1167 1082 1160 1083 1146ZM1122 1168 2378 4774 4928 2225 1143 1140ZM297 1167 296 1176 314 1183 319 1164 301 1161ZM340 1170 339 1178 315 1184 314 1183 319 1164 326 1161ZM348 1164 367 1169 367 1178 353 1195 347 1197 339 1178 340 1170ZM390 1186 380 1164 376 1162 367 1169 367 1178 386 1192ZM426 1167 414 1160 380 1164 390 1186ZM1065 1159 1038 1212 1028 1275 1042 2439 1079 1162ZM1079 1162 1042 2439 1045 2962 1363 4751 2000 5159 2378 4774 1122 1168 1122 1167 1082 1160ZM296 1176 314 1183 315 1184 315 1192 295 1199 289 1183ZM346 1199 347 1197 339 1178 315 1184 315 1192 324 1206 344 1200ZM385 1198 386 1192 367 1178 353 1195 381 1201ZM385 1198 386 1192 390 1186 426 1167 478 1173 480 1175 395 1204ZM277 1204 271 1197 248 1201 136 1287 21 1452 114 1386 275 1220ZM277 1204 295 1202 299 1215 299 1216 275 1220ZM344 1200 324 1206 322 1209 334 1232 345 1222ZM360 1230 345 1222 344 1200 346 1199 367 1220ZM381 1201 353 1195 347 1197 346 1199 367 1220 376 1217ZM385 1198 395 1204 403 1221 382 1224 376 1217 381 1201ZM395 1204 480 1175 481 1175 562 1289 478 1271 459 1263 403 1221ZM275 1220 114 1386 265 1291 299 1243 299 1216ZM322 1209 334 1232 332 1239 317 1236 315 1213ZM362 1253 360 1256 333 1241 332 1239 334 1232 345 1222 360 1230ZM382 1224 384 1246 362 1253 360 1230 367 1220 376 1217ZM382 1224 384 1246 459 1263 403 1221ZM360 1256 333 1241 321 1261 352 1262 360 1257ZM352 1262 333 1282 299 1281 321 1261ZM384 1246 459 1263 478 1271 388 1282 360 1259 360 1257 360 1256 362 1253ZM360 1308 333 1282 299 1281 265 1291 114 1386 21 1452 -387 1875 -1622 3258 336 4229 360 1309ZM360 1308 333 1282 352 1262 360 1257 360 1259ZM360 1308 360 1259 388 1282 360 1309ZM582 1306 617 1351 646 1415 755 1749 788 1858 891 2223 1045 2962 1363 4751 336 4229 360 1309 388 1282 478 1271 562 1289 565 1291Z"/>
<path id="pM" d="M757 367 756 343 774 345 775 358 760 371ZM774 345 775 358 790 365 800 363 801 345 780 338ZM741 422 759 419 759 399 743 403ZM759 419 764 424 779 419 780 406 774 399 763 395 759 399ZM783 424 800 422 806 415 797 403 780 406 779 419ZM721 425 725 420 740 423 743 439 736 446 726 444 722 438ZM743 439 760 441 764 424 759 419 741 422 740 423ZM760 441 764 424 779 419 783 424 784 441 784 441 762 443ZM784 441 795 440 801 436 800 422 783 424ZM823 434 822 439 801 436 800 422 806 415 815 416 823 430ZM823 434 846 432 838 417 823 430ZM795 440 801 436 822 439 823 453 805 457ZM830 461 823 453 822 439 823 434 846 432 860 436 834 460ZM872 480 834 460 860 436 865 434 926 433 1154 463 1114 481 878 482ZM385 475 389 479 399 481 409 478 408 466 398 451 397 451 384 466ZM417 454 427 467 424 479 418 480 409 478 408 466ZM594 477 581 478 580 469 583 449 602 453 603 454ZM601 480 594 477 603 454 619 461 613 477ZM613 477 619 461 623 459 636 458 640 465 640 467 632 482 625 488ZM654 493 655 494 667 480 661 469 640 465 640 467ZM716 479 721 473 720 471 709 457 706 456 698 464 691 479 694 480ZM819 485 827 471 830 461 823 453 805 457 795 466 797 474 808 484ZM872 480 834 460 830 461 827 471 843 484ZM399 481 409 478 418 480 416 506 415 508 401 503ZM458 489 459 485 476 478 484 498 479 503ZM510 493 535 483 536 482 518 467 503 480 501 490 501 490ZM601 480 594 477 581 478 578 481 580 500 605 504ZM606 506 605 504 601 480 613 477 625 488 625 494ZM654 493 640 467 632 482ZM680 503 659 507 655 496 655 494 667 480 682 481 682 497ZM704 500 694 480 716 479 716 498 705 502ZM821 489 814 503 799 511 794 502 808 484 819 485ZM821 489 833 498 843 484 827 471 819 485ZM838 505 878 482 872 480 843 484 833 498ZM417 521 415 508 401 503 392 510 390 513 404 530ZM458 489 479 503 479 506 471 516 456 519 455 492ZM602 523 583 518 580 516 580 501 580 500 605 504 606 506 606 507ZM603 524 614 526 628 517 606 507 602 523ZM632 501 655 496 659 507 658 516 632 517ZM705 502 716 498 725 501 718 524 716 526 711 524 703 510ZM725 501 718 524 740 518 728 501ZM728 501 740 518 747 521 750 520 759 512 759 508 734 496ZM760 499 777 488 780 489 787 498 769 516 759 512 759 508ZM797 517 798 515 799 511 794 502 787 498 769 516 771 517ZM814 503 825 519 823 521 798 515 799 511ZM544 521 523 516 522 539 538 537 545 523ZM603 524 601 533 594 540 585 541 583 539 583 518 602 523ZM632 517 634 541 636 543 642 544 656 538 661 525 658 516 632 517ZM739 542 747 521 740 518 718 524 716 526 723 540 736 543ZM322 531 304 536 315 553 333 551ZM346 540 365 536 373 541 365 561 361 565 341 556 340 553ZM373 541 377 540 395 559 388 565 365 561ZM459 552 441 564 434 551 433 544 441 541 459 551ZM658 570 667 560 663 544 656 538 642 544 645 554ZM683 545 663 544 667 560 674 561ZM716 561 720 569 732 562 736 543 723 540 717 544ZM743 568 753 566 755 550 739 542 736 543 732 562ZM361 565 365 561 388 565 384 579 369 580 362 569ZM657 578 660 583 679 574 683 570 682 567 674 561 667 560 658 570ZM718 577 720 569 732 562 743 568 737 586 723 583ZM762 577 753 566 755 550 761 548 777 564 773 572 769 575ZM300 573 296 589 309 597 314 597 316 596 317 579ZM362 569 369 580 364 593 363 595 343 593 342 592 341 588ZM764 602 761 580 741 589 742 596 745 602 758 606ZM797 594 797 585 773 572 769 575 785 598ZM190 593 201 586 204 598 201 616 200 617 190 615ZM177 615 176 613 175 599 183 594 190 593 190 615 188 615ZM214 602 204 598 201 616 216 618ZM228 601 220 619 216 618 214 602ZM230 599 228 601 220 619 223 623 227 625 233 623 236 609ZM240 623 233 623 236 609 248 614 248 617ZM248 617 248 614 250 606 259 596 266 608 268 617 267 618 258 623ZM230 599 236 609 248 614 250 606 230 598ZM268 617 283 617 284 601 266 608ZM266 608 284 601 285 597 260 592 259 596ZM317 620 312 626 309 627 299 613 300 611 317 613ZM309 597 300 610 300 611 317 613 319 610 314 597ZM316 596 342 592 343 593 340 608 340 610 319 610 314 597ZM340 621 332 625 317 620 317 613 319 610 340 610ZM363 595 343 593 340 608 360 612 366 607ZM357 623 360 612 340 608 340 610 340 621 341 621 346 624ZM404 623 397 619 399 604 402 603 414 617 411 619ZM426 608 425 617 423 619 414 617 402 603 408 594 416 595 424 600ZM447 600 426 608 424 600 438 589ZM432 617 425 617 426 608 447 600 449 602 447 608ZM731 618 745 602 758 606 757 624 741 625ZM764 602 778 604 781 620 760 627 757 624 758 606ZM778 604 785 598 797 594 806 602 799 624 787 626 781 620ZM806 602 878 601 887 602 856 633 846 635 802 627 799 624ZM240 623 233 623 227 625 233 641 235 641 236 641 244 632ZM233 641 222 652 220 652 213 638 223 623 227 625ZM240 623 244 632 254 634 257 632 258 623 248 617ZM244 632 236 641 248 647 248 647 254 634ZM268 617 283 617 285 619 285 620 277 639 275 639 267 618ZM258 623 267 618 275 639 273 639 265 638 257 632ZM283 643 277 639 285 620 298 632 296 636ZM285 620 285 619 299 613 309 627 309 627 298 632ZM360 625 361 627 365 637 360 641 350 637 346 624 357 623ZM346 624 341 621 338 644 339 644 350 637ZM400 633 404 623 411 619 405 636ZM405 636 407 638 418 638 422 637 424 634 424 634 423 619 414 617 411 619ZM500 627 505 622 518 631 517 635 510 643 507 643ZM528 620 518 631 505 622 505 621 522 615 527 619ZM104 638 -1771 -30 -2168 284 98 659ZM105 668 98 659 104 638 111 636 122 641 115 665ZM115 665 122 641 125 641 136 650 140 664 126 670ZM201 650 194 642 209 639ZM201 650 209 639 212 637 213 638 220 652 215 657 205 656ZM266 657 279 661 283 660 284 660 283 644 283 643 277 639 275 639 273 639ZM266 657 273 639 265 638 256 653 262 659ZM283 643 296 636 302 647 302 651 283 644ZM283 644 284 660 302 660 304 656 304 655 302 651ZM302 647 311 638 318 644 304 655 302 651ZM318 644 304 655 304 656 320 658 324 644ZM360 641 358 652 361 657 367 661 376 659 372 636 365 637ZM380 633 381 660 376 659 372 636 380 633ZM490 656 500 650 503 645 488 640 479 643 479 649 484 655ZM490 657 502 664 505 663 500 650 490 656ZM525 656 512 645 510 660ZM505 663 508 663 510 660 512 645 511 645 510 643 507 643 503 645 500 650ZM103 672 74 687 39 692 -2308 393 -2168 284 98 659 105 668ZM111 688 110 687 103 672 105 668 115 665 126 670 126 680ZM194 678 187 679 179 677 182 668 197 663 198 666ZM205 681 194 678 198 666 204 674 206 680ZM324 673 325 665 320 658 304 656 302 660 302 660 315 675 324 673ZM297 673 302 660 315 675 307 684 301 682ZM327 673 345 666 347 667 348 670 339 678ZM324 673 325 665 332 660 340 658 345 666 327 673ZM495 672 502 664 490 657ZM495 672 490 657 490 656 484 655 480 677 487 678 493 678ZM495 672 502 664 505 663 508 663 515 673 515 674 514 675 504 685 493 678ZM515 673 529 658 525 656 510 660 508 663ZM429 681 427 699 434 704 441 697 436 680ZM415 685 420 677 429 681 427 699 419 700 419 699ZM539 706 527 693 527 693 528 691 536 681 545 696 543 705ZM536 681 528 691 514 675 515 674 533 676 536 680ZM536 681 545 696 558 685 538 680 536 680ZM552 707 555 706 564 692 564 689 564 686 563 686 560 685 559 685 558 685 545 696 543 705ZM601 700 604 693 602 678 597 678 594 681 590 697ZM590 697 594 681 573 682 572 683 586 702ZM616 683 618 692 615 700 604 693 602 678 603 678ZM601 700 604 693 615 700 615 703 604 705ZM739 680 742 675 761 676 765 681 760 695 747 695ZM776 704 780 687 765 681 760 695 767 704ZM101 717 98 720 39 692 74 687 97 694 102 705ZM114 693 102 705 101 717 117 714 116 696ZM116 696 117 714 128 717 134 715 141 696 140 695 139 694ZM422 713 417 703 419 700 427 699 434 704 436 710 423 714ZM423 714 436 710 438 714 424 730 422 732 420 731 418 726ZM453 700 447 696 441 697 434 704 436 710 438 714 442 716 445 715 449 714ZM461 706 458 716 449 714 453 700 457 699ZM629 718 644 727 647 718 632 705 628 707ZM618 721 620 724 629 718 628 707 623 706ZM747 695 760 695 767 704 758 713 745 717 743 717ZM775 726 758 713 767 704 776 704 780 708 784 720ZM128 717 125 732 136 741 145 737 149 727 149 725 134 715ZM149 725 149 727 163 736 173 735 177 729 152 723ZM179 725 179 727 177 729 152 723 159 715ZM400 721 395 721 387 725 387 729 397 740 399 739 400 724ZM377 738 387 729 397 740 395 744 385 745 380 744ZM603 733 603 725 597 724 587 734 588 737 597 737ZM597 724 583 712 581 713 576 721 577 722 587 734ZM612 738 614 737 619 725 603 725 603 725 603 733ZM603 725 619 725 620 724 620 724 618 721 613 716 605 718ZM605 753 599 760 582 751 583 749 599 747ZM599 743 599 747 583 749 588 737 597 737ZM731 735 750 746 744 759 723 751 727 739ZM612 751 619 761 614 770 599 760 599 760 605 753ZM595 770 597 779 606 783 608 783 610 783 614 771 614 770 599 760ZM639 772 637 775 614 771 614 770 619 761 633 760ZM637 776 637 775 614 771 610 783 614 785 621 783ZM784 754 775 776 767 777 760 766 769 751ZM670 776 654 783 654 787 658 799 659 800 669 799 676 788 675 781 671 776ZM734 789 737 782 760 786 760 792 757 799 743 799ZM666 822 674 812 669 799 659 800 656 818ZM740 814 746 818 758 819 757 799 743 799ZM757 799 760 792 782 803 779 810 764 821 761 821 758 819ZM735 834 746 818 758 819 761 821 755 840 746 844ZM766 851 755 840 761 821 764 821 780 834ZM819 839 822 828 829 819 836 818 843 823 841 841 837 845 821 842ZM861 820 843 823 841 841 862 835ZM899 846 954 841 956 840 909 818 862 819 861 820 862 835 867 841ZM152 842 159 862 157 868 144 887 98 857 135 835 147 838ZM160 841 168 842 167 857 159 862 152 842ZM183 850 182 854 167 857 168 842 176 837 184 844ZM521 846 516 852 512 852 507 847 506 834 508 832 514 829ZM501 861 498 850 507 847 512 852 508 857ZM739 860 763 857 766 851 766 851 755 840 746 844ZM791 837 795 833 819 839 821 842 813 861 791 845ZM840 867 845 859 837 845 821 842 813 861 813 862ZM855 859 845 859 837 845 841 841 862 835 867 841ZM863 867 899 846 867 841 855 859ZM186 874 166 890 157 890 144 887 144 887 157 868 183 869ZM183 869 157 868 159 862 167 857 182 854 184 859ZM603 876 593 863 595 852 595 852 614 861 614 862 605 875ZM605 875 614 862 625 875 624 882 612 880ZM614 862 625 875 635 866 635 866 625 856 619 856 614 861ZM625 883 631 886 633 885 639 877 635 866 625 875 624 882ZM459 887 465 899 466 900 473 896 461 881ZM461 879 461 881 473 896 479 892 477 880 471 876ZM477 880 479 892 485 895 497 881 499 875 481 876ZM489 900 493 900 498 899 503 891 497 881 485 895ZM498 899 517 906 519 904 519 882 518 881 503 891ZM503 891 518 881 518 878 510 875 500 873 499 875 497 881ZM554 900 555 882 545 884 543 886 542 901 543 901ZM560 901 566 892 566 890 563 880 562 880 555 882 554 900ZM603 876 605 875 612 880 612 896 603 895 601 878ZM612 896 615 898 625 883 624 882 612 880ZM639 877 647 879 653 885 644 889 633 885ZM644 889 641 898 647 905 661 887 653 885ZM886 902 908 920 934 917 1036 846 1047 838 956 840 954 841 892 879 883 898ZM92 904 114 917 141 900 144 887 144 887 98 857 51 852ZM182 898 166 890 157 890 174 917ZM155 925 169 922 174 919 174 917 157 890 144 887 141 900 146 918ZM470 913 482 912 481 922 478 924ZM473 896 479 892 485 895 489 900 487 906 482 912 470 913 465 910 466 900ZM487 906 492 918 488 922 481 922 482 912ZM487 906 492 918 497 919 501 913 493 900 489 900ZM498 899 517 906 514 913 501 913 493 900ZM501 913 514 913 515 923 501 925 497 919ZM514 913 515 923 517 926 528 926 532 923 534 919 524 905 519 904 517 906ZM543 901 542 901 534 902 524 905 534 919 535 919 543 905ZM626 904 632 896 641 898 647 905 647 906 643 908 627 908ZM625 919 626 920 637 924 643 908 627 908ZM682 907 668 900 660 912 676 922ZM874 922 869 922 865 917 862 909 869 901 883 898 886 902 877 922ZM877 922 886 902 908 920 900 925ZM96 941 92 904 51 852 -11 830 -2504 896 -655 943 96 942ZM96 941 92 904 114 917 114 936ZM146 918 141 900 114 917 114 936 125 942 126 942ZM156 929 154 939 142 950 126 942 146 918 155 925ZM156 929 177 946 179 944 169 922 155 925ZM179 944 186 942 185 922 174 919 169 922ZM516 930 517 926 528 926 533 937 528 942 523 943 516 935ZM545 940 533 937 528 926 532 923 546 930 549 939 545 940ZM535 919 534 919 532 923 546 930 549 919ZM552 916 549 919 546 930 549 939 553 941 559 936 566 925 558 916ZM648 940 639 928 639 927 653 922 656 926ZM648 943 651 945 660 946 670 934 656 926 648 940ZM676 928 676 932 670 934 656 926 653 922 655 913 660 912 676 922ZM822 944 818 941 818 919 820 918 833 917 840 932 841 942 841 943ZM863 941 841 942 840 932 865 917 869 922ZM874 922 869 922 863 941 873 950 882 939ZM874 922 882 939 893 935 900 925 877 922ZM96 942 -655 943 73 978 98 954ZM105 964 98 954 96 942 96 941 114 936 125 942 122 961 111 967ZM142 950 146 956 142 971 136 972 122 961 125 942 126 942ZM154 939 161 949 156 955 146 956 142 950ZM156 955 164 966 166 965 176 958 176 948 161 949ZM156 929 177 946 176 948 161 949 154 939ZM194 966 188 943 207 954 208 957 201 966 197 967ZM194 966 188 943 187 942 186 942 179 944 177 946 176 948 176 958 182 964ZM535 952 528 942 533 937 545 940ZM533 959 521 953 523 943 528 942 535 952ZM534 962 533 959 535 952 545 940 545 940 540 962ZM540 962 554 961 555 961 557 950 553 941 549 939 545 940ZM614 952 612 955 595 964 594 963 594 963 596 947ZM619 949 619 947 598 937 594 941 594 944 596 947 614 952 619 949ZM619 949 638 951 641 947 631 939 621 941 619 947ZM619 949 638 951 639 963 627 965 619 949ZM739 952 719 956 718 954 717 943 741 933 742 935ZM863 941 841 942 841 943 841 952 848 964 865 968 875 957 873 950ZM893 935 898 959 881 959 875 957 873 950 882 939ZM893 935 898 959 904 962 917 956 934 917 908 920 900 925ZM934 917 1036 846 941 968 928 968 917 956ZM105 964 85 981 73 978 98 954ZM105 964 85 981 102 994 102 994 111 974 111 967ZM111 967 111 974 128 984 130 984 136 972 122 961ZM175 979 166 965 176 958 182 964 180 973ZM175 979 166 965 164 966 152 977 157 987 174 982ZM244 968 239 960 254 960 256 960 256 966ZM244 968 256 966 260 980 260 981 247 980ZM302 978 324 975 324 975 324 974 317 964 309 961 305 963 302 975ZM302 986 319 982 324 975 302 978ZM335 954 334 954 317 964 324 974 335 955ZM341 961 336 978 335 979 324 975 324 974 335 955ZM472 955 461 950 462 972 478 965 478 962 478 962ZM478 965 485 979 485 980 485 981 461 987 457 978 462 972ZM534 962 531 970 524 970 523 970 509 958 519 954 521 953 533 959ZM514 988 524 970 531 970 533 975 514 988ZM534 962 531 970 533 975 542 986 554 961 540 962ZM561 969 560 965 555 961 554 961 542 986 542 987 561 982ZM579 981 579 971 574 964 560 965 561 969ZM579 981 561 969 561 982 570 988 580 985ZM579 956 574 964 579 971 594 963 594 963ZM579 981 579 971 594 963 595 964 599 971 584 986 580 985ZM611 976 611 976 612 984 613 986 634 982 625 968ZM627 965 639 963 643 965 647 981 642 986 634 982 625 968ZM702 956 718 954 719 956 722 979 706 982 693 965ZM748 961 725 980 724 980 722 979 719 956 739 952ZM748 961 759 977 761 979 777 972 778 963 777 959 761 951ZM802 974 784 980 777 972 778 963 795 961ZM802 974 795 961 802 954 813 959 816 970 810 975ZM838 987 837 983 848 964 865 968 866 982 865 982ZM879 990 866 982 865 968 875 957 881 959 885 984ZM902 977 904 962 898 959 881 959 885 984ZM902 977 904 962 917 956 928 968 927 981 916 988 907 984ZM936 987 927 981 928 968 941 968 950 982ZM963 985 950 982 941 968 1036 846 1047 838 1053 836 1092 833 1132 834 1095 890 1058 919ZM112 1002 108 997 128 984 130 984 140 1003 138 1005ZM142 971 136 972 130 984 140 1003 150 999 156 991 157 987 152 977ZM302 986 303 999 282 1001 280 986 282 984ZM364 983 363 987 382 995 384 994 389 982 384 978ZM397 980 400 981 406 985 410 1000 408 1003 384 994 389 982ZM447 978 433 998 444 1004 460 997 461 987 457 978 452 976ZM463 1000 485 996 486 994 485 981 461 987 460 997ZM505 999 486 994 485 981 485 980 492 980 508 997ZM514 996 514 988 533 975 542 986 542 987 542 989 517 997ZM580 985 584 986 588 992 590 1002 573 1015 567 995 570 988ZM616 1001 613 986 634 982 642 986 642 995 636 1004 635 1005 617 1002ZM725 980 724 980 724 986 736 1004 750 998 730 982ZM730 982 750 998 757 999 761 979 759 977ZM777 972 761 979 757 999 767 1015 768 1015 772 1014 788 995 784 980ZM802 974 784 980 788 995 804 997 810 989 810 975ZM837 998 837 994 838 987 865 982 856 1000 855 1001 838 999ZM881 1000 856 1000 865 982 866 982 879 990ZM907 984 916 988 917 995 908 1008 899 999ZM934 1002 936 987 927 981 916 988 917 995 929 1003ZM943 1007 963 986 963 985 950 982 936 987 934 1002ZM169 1018 150 999 140 1003 138 1005 138 1012 142 1020 157 1030 162 1028ZM215 990 205 997 205 1010 211 1015 223 1013 227 1004ZM252 1019 257 1027 260 1027 276 1012 276 1007 260 998 259 999ZM463 1000 468 1010 485 1014 485 996ZM506 1027 494 1017 505 999 508 997 514 996 517 997 521 1009 513 1023ZM548 1000 568 1018 571 1018 573 1015 567 995ZM767 1015 748 1023 729 1016 736 1004 750 998 757 999ZM804 997 806 1001 806 1017 797 1022 772 1014 788 995ZM817 1020 825 1005 806 1001 806 1017ZM837 998 825 1005 817 1020 823 1027 839 1010 838 999ZM838 999 839 1010 841 1013 857 1021 864 1017 855 1001ZM881 1001 880 1014 878 1017 864 1017 855 1001 856 1000 881 1000ZM919 1019 929 1003 934 1002 943 1007 946 1015 920 1020ZM946 1015 951 1021 960 1022 967 1018 963 986 943 1007ZM968 1018 1058 919 963 985 963 986 967 1018ZM992 1023 1053 975 1064 958 1095 890 1058 919 968 1018 982 1024ZM513 1023 538 1036 541 1024 538 1016 521 1009ZM661 1047 661 1026 676 1021 680 1039 675 1045 662 1050ZM680 1016 699 1025 693 1041 680 1039 676 1021ZM715 1021 720 1039 739 1045 748 1023 729 1016 718 1018ZM768 1015 771 1036 753 1048 740 1046 739 1045 748 1023 767 1015ZM768 1015 771 1036 779 1046 800 1043 797 1022 772 1014ZM857 1021 841 1013 839 1035 843 1037 852 1034ZM878 1017 879 1030 866 1043 852 1034 857 1021 864 1017ZM977 1044 967 1045 964 1042 960 1022 967 1018 968 1018 982 1024ZM993 1032 992 1023 982 1024 977 1044 987 1049ZM1007 1045 1051 981 1053 975 992 1023 993 1032ZM263 1053 280 1045 277 1041 260 1027 257 1027 247 1038ZM281 1046 285 1059 303 1064 309 1056 307 1044 297 1037ZM516 1060 519 1051 538 1037 546 1043 547 1057 520 1067ZM662 1050 675 1045 691 1060 690 1062 685 1066 661 1058ZM675 1045 680 1039 693 1041 698 1052 698 1054 691 1060ZM762 1063 737 1067 736 1066 740 1046 753 1048ZM775 1060 778 1052 779 1046 771 1036 753 1048 762 1063 765 1065ZM801 1066 778 1052 779 1046 800 1043 804 1045 802 1066ZM817 1043 804 1045 802 1066 817 1068 830 1063ZM842 1057 843 1037 839 1035 824 1033 817 1043 830 1063 833 1064ZM866 1059 866 1043 852 1034 843 1037 842 1057ZM866 1059 866 1043 879 1030 890 1039 870 1061 867 1060ZM964 1042 940 1048 959 1064 965 1058 967 1045ZM992 1060 988 1063 965 1058 967 1045 977 1044 987 1049ZM1004 1060 992 1060 987 1049 993 1032 1007 1045 1004 1060ZM1039 1033 1051 981 1007 1045 1004 1060 1004 1060 1015 1058ZM156 1058 176 1051 184 1057 183 1074 173 1081 173 1081ZM330 1053 323 1061 323 1081 324 1082 336 1082 343 1077 341 1059 336 1054ZM414 1065 426 1058 439 1072 433 1079 420 1075ZM775 1060 792 1078 772 1084 764 1083 764 1082 765 1065ZM801 1066 793 1079 794 1079 815 1083 817 1068 802 1066ZM856 1082 840 1087 833 1064 842 1057 866 1059 867 1060 857 1082ZM857 1082 878 1093 882 1067 870 1061 867 1060ZM898 1061 886 1066 898 1093 907 1071ZM959 1064 957 1077 959 1080 978 1080 983 1074 988 1063 965 1058ZM173 1081 173 1081 180 1093 177 1106 163 1109 158 1103 171 1082ZM202 1096 205 1080 217 1078 226 1081 227 1099 215 1103 203 1098ZM226 1081 239 1076 246 1085 245 1102 236 1105 227 1099ZM336 1106 340 1095 336 1082 324 1082 321 1094ZM381 1101 392 1099 398 1085 396 1080 383 1072 371 1081 377 1099ZM398 1085 411 1087 421 1098 402 1110 392 1099ZM420 1075 433 1079 434 1100 421 1098 411 1087ZM739 1098 742 1086 740 1084 716 1088 712 1098 726 1107ZM764 1083 763 1100 757 1103 743 1086 764 1082ZM764 1083 763 1100 776 1110 782 1105 772 1084ZM813 1097 823 1105 840 1090 840 1088 819 1089ZM856 1082 862 1100 854 1104 843 1101 840 1090 840 1088 840 1087ZM989 1099 989 1099 985 1102 959 1097 957 1089 959 1080 978 1080ZM1043 1080 1041 1092 1046 1100 1069 1097 1069 1097 1069 1096 1048 1078ZM1048 1078 1069 1096 1077 1081 1076 1078 1063 1067 1060 1068ZM1069 1096 1077 1081 1101 1091 1099 1099 1086 1108 1069 1097ZM381 1101 378 1123 356 1112 358 1105 377 1099ZM381 1101 378 1123 381 1129 403 1119 402 1110 392 1099ZM402 1110 421 1098 434 1100 444 1110 451 1132 406 1121 403 1119ZM813 1097 799 1103 802 1111 822 1115 823 1105ZM840 1090 843 1101 838 1118 824 1117 822 1115 823 1105ZM1002 1093 1019 1117 1015 1122 1006 1122 989 1099 989 1099ZM1069 1097 1086 1108 1084 1116 1062 1120 1069 1097ZM280 1127 288 1118 293 1116 303 1122 303 1146 299 1149 287 1143ZM375 1142 379 1138 381 1129 378 1123 356 1112 355 1113 352 1130 372 1142ZM381 1129 403 1119 406 1121 403 1147 379 1138ZM478 1173 474 1164 451 1132 406 1121 403 1147 414 1160 426 1167ZM873 1112 884 1120 879 1136 869 1136 864 1118ZM1006 1122 1015 1122 1020 1137 1008 1148 1002 1146 999 1126ZM1019 1117 1045 1118 1046 1119 1042 1142 1035 1146 1020 1137 1015 1122 1019 1117ZM1046 1119 1061 1120 1068 1136 1059 1148 1042 1142ZM272 1157 274 1160 297 1167 301 1161 299 1149 287 1143ZM375 1142 376 1162 380 1164 414 1160 403 1147 379 1138ZM869 1136 864 1139 866 1171 879 1193 888 1159 886 1142 879 1136ZM938 1153 941 1157 964 1167 967 1162 957 1140 945 1136ZM983 1129 965 1134 957 1140 967 1162 980 1157 985 1146 983 1129ZM1008 1148 1009 1161 1003 1173 980 1157 985 1146 1002 1146ZM1008 1148 1009 1161 1033 1156 1035 1146 1020 1137ZM1035 1146 1042 1142 1059 1148 1062 1155 1036 1166 1033 1156ZM929 1196 941 1157 964 1167 927 1334ZM967 1162 964 1167 927 1334 905 1492 891 2223 1045 2962 1042 2439 1028 1275 1003 1173 980 1157ZM1033 1156 1036 1166 1038 1212 1028 1275 1003 1173 1009 1161ZM1065 1159 1038 1212 1036 1166 1062 1155ZM279 1183 271 1197 277 1204 295 1202 295 1199 289 1183ZM295 1202 295 1199 315 1192 324 1206 322 1209 315 1213 299 1215ZM299 1215 315 1213 317 1236 299 1243 299 1216ZM333 1241 332 1239 317 1236 299 1243 265 1291 299 1281 321 1261Z"/>
<path id="pY" d="M419 437 417 454 408 466 398 451 416 438 419 437ZM438 497 427 480 424 479 418 480 416 506 437 501ZM538 498 521 511 520 511 510 493 535 483 539 495ZM553 499 570 481 565 479 540 477 536 482 535 483 539 495ZM417 521 415 508 416 506 437 501 440 515 421 523ZM504 516 499 522 479 506 479 503 484 498 497 491 501 490 501 490ZM520 511 510 493 501 490 504 516ZM544 521 523 516 521 511 538 498ZM544 521 538 498 539 495 553 499 558 506 557 521 545 523ZM680 503 659 507 658 516 661 525 684 526 688 515ZM322 531 333 551 340 553 346 540 339 526 330 525ZM339 526 345 515 362 516 365 536 346 540ZM404 531 379 537 383 515 390 513 404 530ZM404 531 404 530 417 521 421 523 431 544 423 546 404 531ZM459 551 441 541 451 522 453 522 467 543ZM499 538 499 522 479 506 471 516 482 541 484 542 499 538ZM499 538 499 522 504 516 520 511 521 511 523 516 522 539 520 540ZM561 544 566 533 564 525 557 521 545 523 538 537 541 539ZM404 531 379 537 377 540 395 559 401 558 403 556 404 531ZM499 538 484 542 482 557 496 564 501 560ZM499 538 520 540 523 558 515 569 501 560 499 538ZM520 540 522 539 538 537 541 539 545 559 536 562 523 558ZM562 551 553 561 545 559 541 539 561 544ZM324 575 334 575 341 556 340 553 333 551 315 553 314 556ZM388 565 395 559 401 558 409 576 405 584 386 582 384 579ZM553 561 560 581 559 582 544 585 537 582 536 562 545 559ZM369 580 364 593 385 597 386 582 384 579ZM176 613 159 608 153 597 162 592 175 599ZM177 615 176 613 159 608 157 621 170 621 177 616ZM364 593 385 597 389 602 375 614 366 607 363 595ZM360 625 375 614 375 614 366 607 360 612 357 623ZM177 615 188 615 186 640 177 616ZM188 615 190 615 200 617 199 627 190 639 186 640 186 640ZM220 619 223 623 213 638 212 637 199 627 200 617 201 616 216 618ZM209 639 194 642 190 639 199 627 212 637ZM327 639 312 626 309 627 309 627 311 638 318 644 324 644 327 642 327 642ZM296 636 298 632 309 627 311 638 302 647ZM719 632 729 643 740 645 741 625 731 618 727 618 720 625ZM157 659 161 651 161 645 155 640 136 650 140 664 144 666ZM173 661 172 659 182 643 183 643 184 646 181 668ZM172 659 182 643 170 641 161 645 161 651ZM201 650 194 642 190 639 186 640 183 643 184 646 198 661 205 656ZM182 668 181 668 184 646 198 661 197 663ZM248 647 239 656 235 641 236 641ZM235 641 239 656 236 661 222 652 233 641ZM248 647 239 656 236 661 236 662 243 665 254 653 248 647ZM254 634 248 647 254 653 256 653 265 638 257 632ZM423 642 422 637 418 638 407 658 410 659 425 653ZM407 658 418 638 407 638 396 656ZM604 628 604 628 596 636 599 648 609 644ZM615 648 614 657 610 661 602 656 598 649 599 648 609 644ZM688 663 683 656 692 638 707 644 710 654 690 664ZM719 632 707 644 710 654 718 660 729 643ZM163 666 157 659 144 666 149 681 166 674ZM198 666 197 663 198 661 205 656 215 657 215 657 204 674ZM206 680 221 679 215 657 204 674ZM243 677 239 680 228 677 236 662 243 665 246 669ZM215 657 215 657 221 679 222 680 228 677 236 662 236 661 222 652 220 652ZM260 671 262 659 256 653 254 653 243 665 246 669ZM261 674 255 682 243 677 246 669 260 671ZM273 682 281 683 285 675 283 660 279 661 269 678ZM261 674 269 678 279 661 266 657 262 659 260 671ZM285 675 283 660 284 660 302 660 302 660 297 673ZM285 687 281 683 285 675 297 673 301 682 288 688ZM382 678 383 667 369 676 372 680ZM383 667 384 661 381 660 376 659 367 661 366 672 369 676ZM608 668 610 661 602 656 589 664 597 678 602 678 603 678ZM573 682 594 681 597 678 589 664 581 657 574 660ZM628 677 616 683 603 678 608 668 627 670ZM627 670 627 664 620 659 614 657 610 661 608 668ZM688 663 677 680 694 687 703 680 690 664ZM690 664 703 680 708 681 718 660 718 660 710 654ZM148 685 149 681 166 674 178 677 177 682 163 690ZM174 704 181 698 177 682 163 690 165 699 174 704ZM212 700 201 699 197 695 197 694 203 686 216 697ZM205 681 203 686 216 697 220 696 223 687 222 680 221 679 206 680ZM328 691 324 673 315 675 307 684 308 687 324 694 327 692ZM311 702 305 698 308 687 324 694 324 696 320 699ZM436 680 436 680 451 680 452 681 447 696 441 697ZM460 696 460 686 452 681 447 696 453 700 457 699ZM476 704 478 702 476 687 462 697ZM460 696 460 686 476 682 476 687 462 697ZM487 678 490 700 487 703 478 702 476 687 476 682 478 678 480 677ZM493 678 504 685 505 687 504 693 490 700 487 678ZM527 693 527 693 516 706 515 706 509 705 509 705 504 693 505 687ZM528 691 527 693 505 687 504 685 514 675ZM572 705 564 692 564 689 585 703 583 712 583 712 581 713ZM586 702 572 683 564 686 564 689 585 703ZM628 677 634 680 635 680 636 696 636 696 618 692 616 683ZM623 706 628 707 632 705 636 696 618 692 615 700 615 703 616 704ZM668 684 688 699 681 706 667 698 666 684ZM160 714 154 704 141 696 134 715 149 725 152 723 159 715ZM240 700 236 709 229 700 236 697ZM238 717 236 709 229 700 222 698 224 721 233 719ZM327 692 324 694 324 696 331 711 334 712 336 707 337 703ZM320 699 324 696 331 711 326 714 320 710ZM476 704 461 706 457 699 460 696 462 697 476 704ZM476 704 473 719 463 720 458 716 461 706ZM476 704 473 719 474 720 489 720 493 717 494 711 487 703 478 702 476 704ZM490 700 487 703 494 711 509 705 504 693ZM502 724 493 717 494 711 509 705 509 705 506 722ZM506 722 509 705 515 706 521 724 517 726ZM535 717 532 723 521 724 515 706 516 706 536 713ZM536 713 516 706 527 693 539 706ZM558 709 572 705 581 713 576 721 568 722 567 722ZM558 709 572 705 564 692 555 706ZM600 710 604 705 601 700 590 697 586 702 585 703 583 712ZM603 725 603 725 605 718 600 710 583 712 583 712 597 724ZM605 718 613 716 616 704 615 703 604 705 600 710ZM618 721 623 706 616 704 613 716ZM662 705 648 699 648 717 662 712ZM636 696 636 696 646 698 648 699 648 717 647 718 632 705ZM662 705 667 698 681 706 681 718 676 725 662 712ZM691 697 704 709 701 715 681 718 681 706 688 699ZM-2504 896 -2975 902 -2308 393 39 692 98 720 99 735 29 810 -11 830ZM117 714 101 717 98 720 99 735 113 740 125 732 128 717ZM179 724 193 712 199 713 208 719 204 724 196 730 181 728 179 727 179 725ZM199 740 191 748 191 748 181 728 196 730ZM418 726 420 731 414 736 400 724 400 721 407 715ZM414 736 412 738 399 739 400 724ZM445 739 445 738 443 728 424 730 422 732 426 735ZM424 730 438 714 442 716 443 728ZM458 716 463 720 456 733 445 715 449 714ZM443 728 442 716 445 715 456 733 456 734 445 738ZM122 760 95 791 29 810 99 735 113 740ZM160 757 174 741 181 751 175 762ZM156 757 156 756 155 752 163 736 173 735 174 741 160 757ZM710 757 717 753 704 731 695 737ZM786 748 772 730 760 738 769 751 784 754 786 753ZM159 781 156 757 156 756 139 762 142 781 146 783ZM177 767 160 781 159 781 156 757 160 757 175 762 177 765ZM177 767 160 781 162 783 181 778ZM595 770 597 779 585 783 573 775 574 773 578 766ZM599 760 599 760 595 770 578 766 579 759 582 751 582 751ZM670 776 667 770 664 765 686 756 671 776ZM736 780 745 761 760 766 767 777 760 786 737 782ZM410 804 418 803 427 798 427 794 421 789 406 792 403 796 404 798 406 802ZM406 792 407 780 410 777 418 777 421 781 421 789ZM428 799 427 798 427 794 435 789 437 791 447 799 447 803 446 804 430 801ZM421 789 421 781 434 777 436 780 435 789 427 794ZM520 791 520 793 542 791 545 786 545 785 540 777 533 774 525 775ZM542 791 544 800 542 806 524 805 519 794 520 793ZM545 786 559 793 562 778 560 777 545 785ZM545 786 559 793 562 799 560 800 544 800 542 791ZM585 783 573 775 571 776 571 798 585 788ZM571 798 569 802 569 802 567 802 562 799 559 793 562 778 571 776ZM135 835 98 857 51 852 -11 830 29 810 95 791 107 793 137 808 140 814ZM157 800 146 797 137 808 140 814 157 814 160 805ZM505 807 520 821 520 822 520 822 502 817 504 808ZM514 796 506 803 505 807 520 821 524 805 519 794 517 794ZM547 813 560 800 562 799 567 802 555 817 549 817ZM547 813 560 800 544 800 542 806 542 807ZM645 802 647 802 650 819 640 827 637 824 637 809ZM656 818 659 800 658 799 647 802 650 819ZM783 802 790 802 804 809 804 809 795 831 779 810 782 803ZM804 809 822 828 829 819 816 800 804 809ZM829 819 816 800 820 793 839 808 836 818ZM147 838 135 835 140 814 157 814 163 819 164 823ZM471 834 467 835 459 830 456 821 457 820 461 819 470 821ZM480 831 478 817 475 814 470 821 471 834 474 835ZM493 822 494 819 500 818 508 832 506 834 503 834ZM502 817 500 818 508 832 514 829 520 822ZM520 822 527 825 532 842 521 846 514 829 520 822ZM541 825 529 825 527 825 532 842 535 843 546 835ZM549 817 549 817 555 817 559 821 563 837 558 839 553 836ZM549 817 553 836 546 835 541 825ZM585 831 593 846 596 850 600 844 601 840 597 831ZM583 822 583 830 585 831 597 831 601 824 586 818ZM791 837 795 833 795 831 779 810 764 821 780 834ZM804 809 822 828 819 839 795 833 795 831ZM556 844 561 865 567 861 572 842 571 840 566 838 563 837 558 839ZM576 862 567 861 572 842 585 853 578 862ZM766 851 785 856 791 845 791 837 780 834 766 851ZM812 863 802 871 786 861 785 856 791 845 813 861 813 862ZM398 867 399 879 398 881 390 880 380 870 380 870 397 867ZM392 858 397 867 380 870 379 867 378 865 378 861 379 858 381 856 388 856ZM430 877 426 860 438 861 440 868 435 878ZM430 877 422 875 415 865 416 860 420 857 426 860ZM435 878 438 887 446 885 456 877 445 867 440 868ZM458 877 458 866 450 864 445 867 456 877ZM458 877 461 879 471 876 467 866 462 864 458 866ZM467 866 469 864 477 858 481 860 483 865 483 865 481 876 477 880 471 876ZM523 862 516 852 512 852 508 857 510 875 518 878 520 874ZM500 873 510 875 508 857 501 861 498 865 499 870ZM545 884 541 872 520 874 518 878 518 881 519 882 529 885 543 886ZM524 862 523 862 520 874 541 872 542 869 539 864ZM555 882 562 880 561 865 555 864 542 869 541 872 545 884ZM544 852 555 864 542 869 539 864 542 852ZM576 862 573 879 582 879 584 879 584 869 578 862ZM561 865 567 861 576 862 573 879 563 880 562 880 561 865ZM826 882 822 885 804 882 801 874 802 871 812 863ZM430 877 422 875 417 880 416 880 413 889 414 890 438 891 438 887 435 878ZM414 891 424 901 438 894 438 891 414 890ZM458 877 461 879 461 881 459 887 446 885 456 877ZM438 894 440 897 465 899 459 887 446 885 438 887 438 891ZM682 907 668 900 662 886 664 884 676 878 683 906ZM724 907 738 900 737 887 721 880 718 903ZM213 905 195 893 192 894 188 899 190 903 205 913ZM220 904 222 926 221 927 204 917 205 913 213 905 218 903 218 903ZM395 920 394 919 396 915 401 909 412 908 415 914 406 921ZM403 896 412 904 413 907 412 908 401 909 399 901ZM438 894 440 897 441 908 436 920 427 915 424 901 424 901ZM412 908 415 914 417 916 427 915 424 901 413 907ZM461 914 441 908 436 920 436 920 457 926 458 926 459 926ZM466 900 465 910 461 914 441 908 440 897 465 899ZM607 915 595 905 582 914 582 919 605 924 608 919ZM595 905 582 914 577 908 576 902 581 896 590 894 595 900ZM607 915 615 899 626 904 627 908 625 919 608 919ZM612 896 615 898 615 899 607 915 595 905 595 900 603 895ZM724 909 703 924 699 918 696 904 700 898 718 903 724 907ZM724 909 726 920 740 931 744 926 746 903 738 900 724 907ZM862 909 841 903 840 904 833 917 840 932 865 917ZM244 931 235 940 231 938 238 924 243 926 246 927ZM234 921 238 924 231 938 221 935 220 932 221 927 222 926ZM244 931 248 945 250 945 256 943 255 926 246 927ZM244 931 235 940 239 948 248 945ZM395 920 394 919 383 918 382 920 379 937 383 938 390 937 396 922ZM396 922 390 937 395 939 405 934ZM416 926 417 916 427 915 436 920 436 920 434 927ZM416 927 423 938 434 937 434 927 416 926ZM434 937 434 937 439 939 457 926 436 920 434 927ZM453 947 458 948 459 948 458 926 457 926 439 939 440 940ZM465 910 461 914 459 926 476 931 478 924 470 913ZM459 926 458 926 459 948 460 948 478 936 476 931ZM605 927 605 924 582 919 581 919 599 935ZM598 937 599 935 581 919 578 924 579 928 584 935 594 941ZM619 947 621 941 620 940 605 927 599 935 598 937ZM608 919 605 924 605 927 620 940 626 920 625 919ZM631 939 639 928 648 940 648 943 641 947ZM621 941 631 939 639 928 639 927 637 924 626 920 620 940ZM741 933 717 943 712 935 726 920 740 931ZM778 936 778 920 779 919 794 916 801 925 799 936 796 939 785 942ZM248 945 239 948 236 958 239 960 254 960 250 945ZM250 945 254 960 256 960 265 955 261 945 256 943ZM295 946 285 949 282 941 290 938ZM295 946 285 949 278 960 278 961 299 959 296 946ZM478 962 478 962 498 955 501 954 500 950 491 945 481 953ZM480 945 482 938 484 939 491 945 481 953ZM512 938 519 954 521 953 523 943 516 935ZM502 946 500 950 501 954 506 958 509 958 519 954 512 938ZM651 945 647 962 665 959 665 959 660 946ZM641 947 648 943 651 945 647 962 643 965 643 965 639 963 638 951ZM785 942 796 939 802 954 795 961 778 963 777 959ZM813 959 822 944 818 941 799 936 796 939 802 954ZM816 970 820 970 841 952 841 943 822 944 813 959ZM156 955 164 966 152 977 142 971 146 956ZM302 986 302 978 302 975 284 971 282 984 302 986ZM284 971 278 962 278 961 299 959 305 963 302 975ZM364 980 354 967 346 978 362 988 363 987 364 983ZM354 967 352 961 341 961 336 978 346 978ZM364 980 372 968 379 965 381 968 384 978 364 983ZM364 980 354 967 352 961 356 957 359 956 372 968ZM384 978 389 982 397 980 395 971 381 968ZM381 968 395 971 397 959 379 964 379 965ZM450 964 458 948 459 948 460 948 461 950 462 972 457 978 452 976 451 974ZM428 961 451 974 450 964 439 958 428 961ZM693 965 706 982 705 982 678 982 677 981 681 964ZM748 961 759 977 730 982 725 980 748 961ZM820 970 837 983 848 964 841 952ZM219 984 215 990 205 997 204 997 201 984 211 977 218 980ZM219 984 215 990 227 1004 237 998 236 988ZM236 988 237 998 241 1000 259 999 260 998 260 982 260 981 247 980 240 983ZM280 986 260 982 260 998 276 1007 282 1001ZM302 986 319 982 325 1001 320 1003 304 1000 303 999 302 986ZM324 975 324 975 335 979 336 994 327 1001 325 1001 319 982ZM362 988 355 998 336 994 335 979 336 978 346 978ZM616 1001 613 986 612 984 588 992 590 1002 598 1006ZM657 980 647 981 642 986 642 995 664 1001 665 1001 667 985ZM687 1001 679 1010 665 1001 667 985 677 981 678 982ZM881 1001 899 999 907 984 902 977 885 984 879 990 881 1000ZM237 998 241 1000 243 1016 231 1020 223 1013 227 1004ZM252 1019 259 999 241 1000 243 1016ZM355 998 336 994 327 1001 341 1021 358 1015 358 1014ZM363 987 382 995 380 1010 358 1014 355 998 362 988ZM408 1003 401 1019 399 1020 391 1020 380 1010 382 995 384 994ZM423 1001 430 998 433 998 444 1004 444 1012 438 1024 427 1027ZM595 1027 600 1024 598 1006 590 1002 573 1015 571 1018 572 1019 585 1027ZM613 1026 617 1002 616 1001 598 1006 600 1024ZM651 1017 636 1004 642 995 664 1001ZM881 1001 880 1014 903 1019 910 1015 908 1008 899 999ZM919 1019 929 1003 917 995 908 1008 910 1015ZM232 1033 231 1020 223 1013 211 1015 210 1026 215 1035 224 1036ZM280 1045 277 1041 280 1016 297 1024 299 1028 297 1037 281 1046ZM337 1026 341 1036 346 1041 358 1042 364 1034 358 1015 341 1021ZM358 1014 358 1015 364 1034 378 1036 391 1020 380 1010ZM395 1051 379 1037 378 1036 391 1020 399 1020 402 1050ZM402 1050 403 1050 423 1040 423 1030 401 1019 399 1020ZM427 1027 438 1024 454 1039 445 1049 429 1047 423 1040 423 1030ZM462 1023 444 1012 438 1024 454 1039 461 1037 462 1036ZM480 1033 462 1036 462 1023 468 1010 485 1014 488 1017ZM506 1027 505 1032 519 1051 538 1037 538 1036 513 1023ZM584 1037 585 1027 595 1027 599 1049 597 1052 592 1051 591 1050ZM661 1047 661 1026 653 1022 636 1036 636 1037ZM903 1019 880 1014 878 1017 879 1030 890 1039 894 1040 900 1036ZM920 1020 946 1015 951 1021 938 1035 923 1029ZM964 1042 960 1022 951 1021 938 1035 940 1048 940 1048ZM201 1052 184 1057 176 1051 176 1045 189 1031 194 1034ZM238 1058 224 1055 224 1036 232 1033 244 1040ZM238 1058 244 1040 247 1038 263 1053 258 1063 242 1064ZM358 1042 360 1054 341 1059 336 1054 346 1041ZM358 1042 360 1054 362 1057 374 1058 379 1037 378 1036 364 1034ZM374 1058 379 1037 395 1051 382 1064ZM429 1047 445 1049 447 1060 446 1068 439 1072 426 1058ZM472 1057 447 1060 445 1049 454 1039 461 1037ZM489 1042 485 1059 476 1060 473 1059 472 1057 461 1037 462 1036 480 1033ZM1041 1051 1033 1067 1015 1058 1039 1033ZM1041 1051 1060 1068 1063 1067 1065 1061 1064 958 1053 975 1051 981 1039 1033ZM1064 958 1065 1061 1107 1049 1261 946 1280 931 1494 717 1132 834 1095 890ZM202 1052 204 1079 183 1074 184 1057 201 1052ZM242 1064 239 1076 246 1085 257 1084 264 1071 258 1063ZM280 1077 296 1084 306 1078 303 1064 285 1059 279 1075ZM323 1081 323 1061 309 1056 303 1064 306 1078ZM396 1080 409 1064 403 1050 402 1050 395 1051 382 1064 383 1072ZM396 1080 409 1064 414 1065 420 1075 411 1087 398 1085ZM473 1059 454 1073 460 1083 473 1083 476 1060ZM930 1060 955 1076 931 1081 925 1079 923 1075ZM959 1064 957 1077 955 1076 930 1060 930 1058 940 1048 940 1048ZM1033 1067 1035 1073 1021 1078 1004 1060 1015 1058ZM1041 1051 1060 1068 1048 1078 1043 1080 1035 1073 1033 1067ZM1076 1078 1107 1049 1065 1061 1063 1067ZM1076 1078 1107 1049 1261 946 1101 1091 1077 1081ZM269 1096 268 1098 258 1107 245 1102 246 1085 257 1084ZM460 1083 444 1110 451 1132 474 1164 478 1087 473 1083ZM931 1081 955 1076 957 1077 959 1080 957 1089 942 1094ZM336 1106 321 1094 316 1101 323 1120 329 1118 336 1112ZM763 1100 757 1103 749 1115 750 1117 766 1123 772 1120 776 1110ZM843 1125 863 1117 854 1104 843 1101 838 1118ZM873 1112 875 1100 862 1100 854 1104 863 1117 864 1118ZM873 1112 875 1100 879 1095 896 1097 896 1117 896 1117 884 1120ZM896 1117 896 1097 898 1095 914 1097 920 1118 917 1119ZM936 1102 939 1121 939 1121 920 1118 914 1097 920 1092ZM959 1097 957 1089 942 1094 936 1102 939 1121 957 1112ZM791 1141 776 1149 766 1136 765 1135 766 1123 772 1120 788 1129ZM794 1142 811 1137 801 1116 788 1129 791 1141ZM817 1134 812 1137 811 1137 801 1116 802 1111 822 1115 824 1117ZM843 1125 843 1136 817 1134 824 1117 838 1118ZM864 1118 863 1117 843 1125 843 1136 843 1137 864 1139 869 1136ZM879 1136 886 1142 898 1135 896 1117 884 1120ZM896 1117 898 1135 910 1139 917 1119 896 1117ZM917 1119 920 1118 939 1121 940 1128 917 1146 913 1144 910 1139ZM960 1113 965 1134 957 1140 945 1136 940 1128 939 1121 939 1121 957 1112ZM264 1154 246 1158 228 1153 234 1142 254 1130 265 1144ZM272 1157 287 1143 280 1127 278 1127 265 1144 264 1154ZM741 1171 737 1201 775 1157 776 1149 766 1136ZM794 1142 800 1161 796 1165 775 1157 776 1149 791 1141ZM794 1142 800 1161 819 1159 812 1137 811 1137ZM843 1137 843 1136 817 1134 812 1137 819 1159 823 1161 827 1160 839 1152ZM910 1139 913 1144 888 1159 886 1142 898 1135ZM917 1146 913 1144 888 1159 879 1193 879 1193 919 1151ZM917 1146 940 1128 945 1136 938 1153 924 1155 919 1151ZM258 1178 248 1201 136 1287 153 1255 215 1158 228 1153 246 1158ZM272 1157 274 1160 273 1177 258 1178 246 1158 264 1154ZM297 1167 296 1176 289 1183 279 1183 273 1177 274 1160ZM646 1415 755 1749 796 1165 775 1157 737 1201ZM819 1159 800 1161 796 1165 755 1749 788 1858 823 1161ZM880 1204 905 1492 891 2223 788 1858 823 1161 827 1160ZM919 1151 879 1193 880 1204 905 1492 927 1334 929 1196 924 1155ZM924 1155 929 1196 941 1157 938 1153ZM273 1177 279 1183 271 1197 248 1201 258 1178Z"/>
<path id="pB" d="M419 437 420 430 394 411 393 412 387 425 416 438ZM682 497 682 481 684 480 691 479 694 480 704 500ZM557 521 564 525 580 516 580 501 558 506ZM680 503 688 515 703 510 705 502 704 500 682 497ZM467 543 453 522 456 519 471 516 482 541ZM741 625 757 624 760 627 762 641 762 641 740 645 740 645ZM802 645 802 627 799 624 787 626 784 635 786 643ZM400 633 391 632 387 634 395 657 396 656 407 638 405 636ZM384 661 381 660 380 633 387 634 395 657 392 659ZM729 643 718 660 718 660 740 669 741 665 740 645 740 645ZM782 657 774 659 773 659 765 652 762 641 762 641 784 635 786 643ZM802 645 786 643 782 657 797 663 806 650ZM139 694 140 695 148 685 149 681 144 666 140 664 126 670 126 680ZM719 691 708 681 718 660 740 669 742 675 739 680ZM103 672 74 687 97 694 110 687ZM114 693 102 705 97 694 110 687 111 688ZM114 693 116 696 139 694 126 680 111 688ZM141 696 154 704 165 699 163 690 148 685 140 695ZM236 692 223 687 222 680 228 677 239 680 242 688ZM236 697 229 700 222 698 220 696 223 687 236 692ZM242 688 239 680 243 677 255 682 252 692ZM240 700 251 698 254 696 252 692 242 688 236 692 236 697ZM278 703 280 702 285 687 281 683 273 682 265 696ZM254 696 259 698 265 696 273 682 269 678 261 674 255 682 252 692ZM339 689 328 691 327 692 337 703 345 697 344 693ZM341 683 339 678 327 673 324 673 324 673 328 691 339 689ZM355 683 344 693 339 689 341 683 354 680ZM355 683 366 696 365 697 355 702 352 701 345 697 344 693ZM374 695 368 694 372 680 382 678 385 681 385 689ZM355 683 366 696 368 694 372 680 369 676 366 672 355 678 354 680ZM666 684 667 698 662 705 648 699 646 698 658 685 663 682ZM658 685 635 680 636 696 646 698ZM179 724 174 704 174 704 160 714 159 715 179 725ZM160 714 154 704 165 699 174 704ZM251 698 241 716 252 715 259 699 259 698 254 696ZM240 700 236 709 238 717 238 717 241 716 251 698ZM266 713 262 720 262 720 260 720 252 715 259 699ZM277 709 283 715 283 725 274 726 276 710ZM276 710 274 726 272 726 262 720 266 713ZM277 709 278 703 265 696 259 698 259 699 266 713 276 710ZM316 725 317 725 324 718 326 714 320 710 312 710 308 716 314 724ZM311 702 312 710 320 710 320 699ZM311 702 305 698 301 700 300 714 302 715 308 716 312 710ZM345 697 352 701 348 705 336 707 337 703ZM341 714 338 715 334 712 336 707 348 705ZM341 714 348 717 355 717 355 702 352 701 348 705ZM394 703 374 696 383 710 391 707ZM407 715 400 721 395 721 391 707 394 703 397 700 408 712 408 713ZM395 721 387 725 379 719 379 717 379 716 383 710 391 707ZM149 727 145 737 155 752 163 736ZM209 719 221 723 222 736 214 745 208 741 204 724 208 719ZM204 724 196 730 199 740 208 741ZM233 719 224 721 221 723 222 736 233 741 238 738ZM238 717 233 719 238 738 246 733 245 727 238 717ZM238 717 241 716 252 715 260 720 251 726 245 727ZM258 732 260 728 262 720 260 720 251 726ZM245 727 251 726 258 732 258 737 252 738 250 737 246 733ZM299 730 299 730 314 724 316 725 315 729 304 738 300 734ZM314 724 308 716 302 715 299 730ZM315 729 317 739 306 741 306 741 304 738ZM338 715 337 731 337 731 324 718 326 714 331 711 334 712ZM316 725 317 725 333 735 320 743 317 739 315 729ZM333 735 317 725 324 718 337 731 334 735ZM377 738 375 737 370 730 379 719 387 725 387 729ZM370 730 360 727 359 721 379 717 379 719ZM375 737 360 745 359 744 356 734 355 733 360 727 370 730ZM475 729 457 735 461 739 476 731ZM463 720 456 733 456 734 457 735 475 729 474 720 473 719ZM463 743 461 739 476 731 479 737 476 739ZM504 732 516 730 517 726 506 722 502 724 501 728ZM501 745 496 732 501 728 504 732 509 741 504 745ZM509 741 504 732 516 730 516 740ZM554 737 550 733 553 724 567 722 568 722 563 737ZM535 717 532 723 534 730 540 735 550 733 553 724 552 723ZM568 746 563 737 568 722 576 721 577 722 572 746ZM583 749 588 737 587 734 577 722 572 746 582 751 582 751ZM122 760 113 740 125 732 136 741 131 758ZM156 756 155 752 145 737 136 741 131 758 139 762ZM200 765 215 751 214 746 193 751 198 763ZM208 741 199 740 191 748 193 751 214 746 214 745ZM237 749 233 741 222 736 214 745 214 746 215 751 219 755ZM237 761 222 760 219 755 237 749 238 751 240 753ZM250 754 252 738 250 737 238 751 240 753ZM261 755 250 754 250 754 252 738 258 737 263 740 265 751ZM246 733 250 737 238 751 237 749 233 741 238 738ZM304 763 301 760 299 750 311 750 315 753 313 759 308 762ZM315 753 311 750 306 741 317 739 320 743 320 748ZM299 750 298 750 306 741 306 741 311 750ZM369 763 369 753 377 751 380 755 376 766 373 767ZM362 765 356 760 362 749 369 753 369 763ZM377 738 375 737 360 745 362 749 369 753 377 751 380 744ZM395 745 389 758 391 763 403 761 404 757ZM385 745 387 757 389 758 395 745 395 744ZM380 744 377 751 380 755 387 757 385 745ZM444 745 445 748 436 760 428 758 425 755 425 755 428 749ZM445 739 426 735 428 749 444 745ZM426 735 422 732 420 731 414 736 412 738 413 747 425 755 428 749ZM519 751 522 746 524 747 529 757 526 760 522 766ZM524 747 538 744 546 755 539 759 529 757ZM559 753 551 756 551 756 554 737 563 737 568 746ZM551 756 546 755 538 744 540 735 550 733 554 737ZM569 759 564 763 552 756 551 756 559 753ZM582 751 572 746 568 746 559 753 569 759 579 759ZM681 739 695 737 710 757 700 766 700 766 687 755ZM139 762 131 758 122 760 95 791 107 793 142 781ZM237 776 237 776 235 779 229 781 222 780 217 769 221 766 237 776ZM237 776 221 766 222 760 237 761ZM249 772 250 754 250 754 240 753 237 761 237 776 237 776 248 774ZM265 770 270 778 269 780 259 785 248 774 249 772 263 768ZM263 768 249 772 250 754 261 755ZM265 770 270 778 271 778 279 760 277 760ZM265 770 277 760 268 752 265 751 261 755 263 768ZM271 778 273 779 286 766 284 760 279 760ZM304 763 301 760 285 760 284 760 286 766 287 768 301 767ZM286 766 273 779 281 785 291 781 287 768ZM299 779 301 778 301 767 287 768 291 781 292 781ZM371 773 370 781 372 782 375 783 384 779 383 769 376 766 373 767ZM360 772 361 770 371 773 370 781 362 781ZM361 770 371 773 373 767 369 763 362 765ZM440 767 436 760 428 758 425 770 434 776ZM419 760 425 755 428 758 425 770 421 770 417 766ZM421 781 434 777 434 776 425 770 421 770 418 777ZM456 788 453 786 448 778 449 773 461 775 464 784ZM436 780 437 780 448 778 449 773 445 767 440 767 434 776 434 777ZM449 773 445 767 450 763 463 765 461 775ZM545 785 560 777 552 765 540 777ZM551 756 546 755 539 759 536 766 533 774 540 777 552 765 552 756 551 756ZM573 775 574 773 564 763 552 756 552 765 560 777 562 778 571 776ZM579 759 578 766 574 773 564 763 569 759ZM670 776 654 783 648 777 667 770ZM664 765 663 763 651 765 640 772 648 777 667 770ZM671 776 675 781 700 766 687 755 686 756ZM786 753 791 755 800 777 779 779 775 776 784 754ZM146 783 142 781 107 793 137 808 146 797ZM160 781 159 781 146 783 146 797 157 800 163 786 162 783ZM181 778 183 784 175 794 163 786 162 783 181 778ZM157 800 163 786 175 794 176 799 160 805ZM199 783 197 796 204 800 210 795 200 781ZM203 775 216 783 215 794 210 795 200 781ZM302 793 305 794 301 805 294 804 291 798 296 793ZM292 781 291 781 281 785 282 795 282 796 291 798 296 793ZM299 779 302 793 296 793 292 781ZM447 785 437 780 436 780 435 789 437 791ZM453 786 448 778 437 780 447 785ZM452 794 456 788 453 786 447 785 437 791 447 799ZM487 788 490 782 492 781 497 784 497 791 492 798 488 799 485 795ZM487 788 482 782 481 782 474 784 472 786 475 788 485 795ZM487 788 490 782 482 782ZM504 778 502 782 517 794 519 794 520 793 520 791 509 779ZM497 791 514 796 517 794 502 782 497 784ZM492 798 506 803 514 796 497 791ZM585 788 591 801 591 803 588 807 569 802 571 798ZM585 783 597 779 606 783 592 800 591 801 585 788ZM610 783 608 783 606 799 615 811 616 811 622 803 622 801 614 785ZM592 800 606 783 608 783 606 799 602 801ZM634 793 622 801 614 785 621 783ZM638 792 638 790 637 776 621 783 634 793ZM638 792 645 802 647 802 658 799 654 787 638 790ZM640 772 648 777 654 783 654 787 638 790 637 776 637 775 639 772ZM783 802 790 802 801 778 800 777 779 779ZM160 805 157 814 163 819 176 808 177 801 176 799ZM164 823 163 819 176 808 181 823 174 828 169 826ZM191 797 185 803 194 814 199 814 200 813 205 807 204 800 197 796ZM177 801 176 808 181 823 188 821 194 814 185 803ZM281 798 273 807 287 817 288 816ZM311 815 311 816 309 819 296 818 289 816 294 804 301 805 310 812 311 814ZM294 804 291 798 282 796 281 798 288 816 289 816ZM435 817 436 821 440 823 446 823 452 821 446 805 435 817ZM463 802 452 794 447 799 447 803 457 808 463 806ZM457 808 457 820 456 821 452 821 446 805 446 804 447 803ZM489 808 494 819 500 818 502 817 504 808ZM492 798 506 803 505 807 504 808 489 808 487 805 488 799ZM478 817 475 814 476 810 476 810 477 809 487 805 489 808 494 819 493 822 492 823ZM520 822 527 825 529 825 542 807 542 806 524 805 520 821ZM549 817 549 817 547 813 542 807 529 825 541 825ZM586 818 588 810 606 818 603 823 601 824ZM591 803 588 807 588 810 606 818 611 815 611 814 603 808ZM603 808 611 814 615 811 606 799 602 801ZM592 800 602 801 603 808 591 803 591 801ZM638 792 645 802 637 809 622 803 622 801 634 793ZM616 811 622 803 637 809 637 824 632 823ZM701 813 720 830 729 812 721 800 719 799ZM729 812 740 814 743 799 734 789 721 800ZM160 841 169 826 164 823 147 838 152 842ZM160 841 168 842 176 837 174 828 169 826ZM198 838 198 838 188 821 194 814 199 814 205 833 205 836ZM188 821 181 823 174 828 176 837 184 844 198 838ZM199 814 200 813 209 820 205 833ZM217 837 220 832 221 819 209 820 205 833 205 836ZM312 844 314 837 309 829 300 838 298 845ZM328 824 320 835 314 837 309 829 309 823 309 819 311 816 327 821ZM309 823 309 829 300 838 297 831ZM420 833 426 835 427 834 436 821 435 817 425 817 421 819 419 822ZM447 841 440 846 433 837 440 831 447 840ZM427 834 433 837 440 831 440 823 436 821ZM467 835 458 846 447 841 447 840 451 834 459 830ZM456 821 452 821 446 823 451 834 459 830ZM447 840 440 831 440 823 446 823 451 834ZM480 831 474 835 477 843 490 846 493 839 486 829ZM486 829 492 823 493 822 503 834 493 839ZM480 831 478 817 492 823 486 829ZM572 818 583 822 583 830 575 837 571 840 566 838 571 818ZM559 821 563 837 566 838 571 818ZM601 824 603 823 612 836 601 840 597 831ZM611 815 618 830 616 836 612 836 603 823 606 818ZM666 832 667 835 675 838 680 835 682 814 674 812 666 822ZM698 813 695 835 702 844 721 834 720 830 701 813ZM729 812 740 814 746 818 735 834 722 835 721 834 720 830ZM220 845 206 856 202 854 198 838 205 836 217 837 219 842ZM220 845 224 850 225 854 222 866 218 868 210 867 206 856ZM225 854 241 859 245 849 245 848 241 846 224 850ZM220 845 224 850 241 846 238 838 219 842ZM401 853 402 865 398 867 397 867 392 858ZM401 853 392 858 388 856 398 845 402 851ZM398 845 397 843 394 840 382 845 381 856 388 856ZM401 853 402 865 408 866 415 865 416 860 409 852 402 851ZM402 851 409 852 415 842 414 838 397 843 398 845ZM416 860 420 857 424 851 415 842 409 852ZM450 864 452 856 458 849 461 851 462 864 458 866ZM440 868 445 867 450 864 452 856 439 849 437 851 438 861ZM447 841 440 846 439 849 452 856 458 849 458 846ZM469 864 477 858 475 850 466 852ZM467 866 469 864 466 852 461 851 462 864ZM474 835 471 834 467 835 458 846 458 849 461 851 466 852 475 850 477 843ZM493 839 503 834 506 834 507 847 498 850 492 849 490 846ZM477 843 475 850 477 858 481 860 490 855 492 849 490 846ZM490 855 497 863 498 865 501 861 498 850 492 849ZM614 861 595 852 596 850 600 844 618 849 619 856ZM600 844 618 849 619 839 616 836 612 836 601 840ZM619 856 618 849 619 839 639 837 641 842 625 856ZM635 866 649 861 650 860 647 852 641 842 641 842 625 856ZM739 860 746 844 735 834 722 835 729 860 738 861ZM206 856 210 867 207 869 197 863 196 860 201 855 202 854ZM209 887 205 886 202 876 207 869 210 867 218 868 216 883ZM222 866 234 875 236 875 243 868 241 859 225 854ZM224 885 216 883 218 868 222 866 234 875 228 883ZM254 880 249 885 240 881 236 875 243 868 246 868 249 869ZM254 880 262 878 264 873 249 869ZM259 860 265 872 264 873 249 869 246 868 255 861 258 860ZM268 855 272 856 271 872 265 872 259 860ZM280 875 285 868 285 859 283 858 278 857 276 874 279 875ZM276 874 271 872 272 856 274 854 278 857ZM299 879 298 873 282 875 292 881ZM280 875 285 868 299 866 300 867 298 873 282 875ZM285 859 285 868 299 866 289 857ZM483 865 499 870 500 873 499 875 481 876ZM481 860 490 855 497 863 483 865ZM483 865 499 870 498 865 497 863 483 865ZM652 860 663 857 677 861 678 876 676 878 664 884ZM754 875 745 874 738 861 739 860 763 857 764 872ZM764 872 763 857 766 851 785 856 786 861 772 876ZM778 888 801 874 802 871 786 861 772 876ZM826 882 812 863 813 862 840 867 838 883ZM188 899 182 898 166 890 186 874 187 875 192 894ZM195 893 192 894 187 875 192 874 202 876 205 886ZM218 903 213 905 195 893 205 886 209 887ZM224 885 216 883 209 887 218 903 218 903ZM251 890 249 885 240 881 237 899 239 900 247 895ZM256 904 247 895 251 890 258 892 257 903ZM258 892 258 892 262 881 262 878 254 880 249 885 251 890ZM279 875 276 874 271 872 265 872 264 873 262 878 262 881 274 891 278 889ZM271 895 258 892 258 892 257 903 263 903 270 896ZM271 895 258 892 262 881 274 891ZM377 892 365 878 377 878 377 892ZM358 876 363 878 364 878 371 898 371 898 369 898 357 879ZM364 878 365 878 377 892 371 898ZM390 880 379 892 377 892 377 878 380 870ZM398 881 390 880 379 892 387 894 399 886ZM403 896 404 890 399 886 387 894 390 899 399 901ZM403 896 404 890 413 889 414 890 414 891 412 904ZM416 880 413 889 404 890 399 886 398 881 399 879 401 878ZM412 904 414 891 424 901 424 901 413 907ZM590 894 588 882 584 879 582 879 578 892 581 896ZM601 878 588 882 590 894 595 900 603 895ZM615 899 615 898 625 883 631 886 632 896 626 904ZM633 885 631 886 632 896 641 898 644 889ZM696 904 683 906 676 878 678 876 698 883 700 898ZM754 875 745 874 737 887 738 900 746 903 757 902ZM840 904 841 903 841 888 838 883 826 882 822 885 816 896ZM190 903 188 899 182 898 174 917 174 919 185 922 185 922ZM204 917 205 913 190 903 185 922 198 922 201 921ZM253 910 246 909 245 910 243 926 246 927 255 926 262 921ZM256 904 253 910 246 909 239 900 247 895ZM234 918 245 910 243 926 238 924 234 921ZM270 896 263 903 272 919 276 918 277 918ZM256 904 253 910 262 921 265 921 272 919 263 903 257 903ZM288 901 289 897 287 894 278 889 274 891 271 895 270 896 277 918 278 918 284 912ZM301 909 288 901 284 912 302 912ZM302 912 307 917 307 917 305 921 302 924 286 924 284 923 278 918 284 912ZM301 909 302 896 300 895 289 897 288 901ZM366 901 366 901 371 913 367 922 366 922 360 915 360 914ZM381 920 371 913 367 922 371 921ZM382 920 383 918 381 910 371 898 369 898 366 901 371 913 381 920ZM399 901 390 899 389 903 396 915 401 909ZM371 898 377 892 377 892 379 892 387 894 390 899 389 903 381 910 371 898ZM394 919 383 918 381 910 389 903 396 915ZM696 904 683 906 682 907 676 922 676 928 699 918ZM757 902 761 921 744 926 746 903 757 902ZM757 902 761 921 762 922 778 920 779 919 770 899ZM778 891 796 902 794 916 779 919 770 899ZM272 919 265 921 267 940 273 941 275 940 276 918ZM277 918 276 918 275 940 282 940 284 923 278 918ZM265 921 267 940 261 945 256 943 255 926 262 921ZM295 946 290 938 291 935 302 935 303 935 297 945 296 946ZM291 935 286 924 284 923 282 940 282 941 290 938ZM291 935 286 924 302 924 302 935ZM324 927 326 926 325 925 307 917 305 921 314 930ZM311 939 303 935 302 935 302 924 305 921 314 930ZM315 945 324 927 314 930 311 939ZM395 920 406 921 411 929 407 935 405 934 396 922ZM406 921 415 914 417 916 416 926 416 927 411 929ZM411 929 416 927 423 938 415 943 409 939 407 935ZM497 930 491 930 484 939 491 945 500 950 502 946 501 943ZM488 922 491 930 497 930 501 926 501 925 497 919 492 918ZM476 931 478 936 482 938 484 939 491 930 488 922 481 922 478 924ZM501 926 501 925 515 923 517 926 516 930 504 933ZM504 933 516 930 516 935 512 938 502 946 501 943ZM501 926 504 933 501 943 497 930ZM742 935 741 933 740 931 744 926 761 921 762 922 763 936 759 940ZM778 936 778 920 762 922 763 936ZM799 936 818 941 818 919 801 925ZM207 954 209 946 220 938 221 959 208 957ZM191 940 187 942 188 943 207 954 209 946 201 936ZM235 940 239 948 236 958 232 959 221 936 221 935 231 938ZM221 959 227 962 232 959 221 936 220 938ZM278 960 277 960 273 941 275 940 282 940 282 941 285 949ZM267 940 261 945 265 955 277 960 273 941ZM315 945 315 946 313 949 297 945 303 935 311 939ZM296 946 299 959 305 963 309 961 313 949 297 945ZM328 943 327 946 334 954 335 954 345 943 343 936 340 936ZM327 946 334 954 317 964 309 961 313 949 315 946ZM352 961 341 961 335 955 335 954 345 943 348 943 356 957ZM356 957 359 956 367 947 367 944 359 938 348 943ZM399 951 398 955 385 949 383 938 390 937 395 939ZM397 959 379 964 378 956 385 949 398 955 399 957ZM409 939 399 951 398 955 399 957 411 960 416 960 415 943ZM407 935 409 939 399 951 395 939 405 934ZM434 937 434 937 428 961 428 961 424 962 423 963 416 960 415 943 423 938ZM428 961 434 937 439 939 440 940 440 956 439 958ZM453 947 440 940 440 956ZM439 958 440 956 453 947 458 948 450 964ZM748 961 761 951 759 940 742 935 739 952 748 961ZM759 940 763 936 778 936 785 942 777 959 761 951ZM192 978 194 977 197 967 194 966 182 964 180 973ZM184 991 192 978 180 973 175 979 174 982 184 991ZM218 980 211 977 201 966 208 957 221 959 227 962 227 964ZM194 977 201 984 211 977 201 966 197 967ZM219 984 236 988 240 983 227 964 218 980ZM227 964 227 962 232 959 236 958 239 960 244 968 247 980 240 983ZM278 961 278 962 260 980 256 966 256 960 265 955 277 960 278 960ZM282 984 280 986 260 982 260 981 260 980 278 962 284 971ZM411 960 416 960 423 963 421 973 406 985 400 981ZM395 971 397 959 399 957 411 960 400 981 397 980ZM428 961 424 962 440 978 447 978 452 976 451 974ZM424 962 440 978 427 982 421 973 423 963ZM410 1000 423 1001 430 998 427 982 421 973 406 985ZM440 978 427 982 430 998 433 998 447 978ZM280 1016 276 1012 276 1007 282 1001 303 999 304 1000 297 1024ZM408 1003 401 1019 423 1030 427 1027 423 1001 410 1000ZM463 1000 468 1010 462 1023 444 1012 444 1004 460 997ZM690 1000 711 1021 715 1021 718 1018 717 1016 701 993ZM153 1038 157 1030 142 1020 131 1039ZM244 1040 232 1033 231 1020 243 1016 252 1019 257 1027 247 1038ZM277 1041 260 1027 276 1012 280 1016ZM919 1019 910 1015 903 1019 900 1036 915 1039 923 1029 920 1020ZM155 1057 125 1042 131 1039 153 1038ZM325 1045 322 1041 307 1044 309 1056 323 1061 330 1053ZM489 1042 485 1059 495 1065 511 1061 494 1041ZM494 1041 511 1061 516 1060 519 1051 505 1032ZM898 1061 898 1061 886 1066 882 1067 870 1061 890 1039 894 1040ZM915 1039 917 1050 898 1061 894 1040 900 1036ZM923 1029 938 1035 940 1048 930 1058 917 1050 915 1039ZM362 1057 360 1054 341 1059 343 1077 356 1078ZM383 1072 382 1064 374 1058 362 1057 356 1078 358 1080 371 1081ZM476 1060 473 1083 478 1087 492 1083 495 1065 485 1059ZM521 1069 520 1067 516 1060 511 1061 495 1065 492 1083 494 1084 521 1072ZM521 1069 520 1067 547 1057 549 1065 529 1072ZM280 1077 296 1084 297 1102 272 1093ZM321 1094 324 1082 323 1081 306 1078 296 1084 297 1102 297 1102 316 1101ZM340 1095 357 1104 358 1080 356 1078 343 1077 336 1082ZM377 1099 358 1105 357 1104 358 1080 371 1081ZM492 1083 478 1087 474 1164 478 1173 480 1175 481 1175 512 1105 494 1084ZM521 1072 494 1084 512 1105 519 1100ZM521 1069 529 1072 545 1084 540 1100 519 1100 521 1072ZM234 1116 260 1121 258 1107 245 1102 236 1105ZM280 1127 288 1118 268 1098 258 1107 260 1121 260 1121 278 1127ZM272 1093 297 1102 297 1102 293 1116 288 1118 268 1098 269 1096ZM323 1120 321 1122 303 1122 293 1116 297 1102 316 1101ZM336 1106 340 1095 357 1104 358 1105 356 1112 355 1113 336 1112ZM519 1100 512 1105 481 1175 562 1289 565 1291 540 1100 540 1100ZM278 1127 260 1121 254 1130 265 1144Z"/>
<path id="pD" d="M340 451 352 446 368 457 359 469ZM368 457 352 446 353 444 379 437 373 456ZM373 456 379 437 380 435 397 451 384 466ZM335 474 315 484 238 460 152 396 85 299 202 341 340 451ZM341 477 358 476 359 469 340 451 340 451 335 474ZM358 476 360 478 385 475 384 466 373 456 368 457 359 469ZM421 523 440 515 451 522 441 541 433 544 431 544ZM431 544 433 544 434 551 422 563 406 556 423 546ZM743 568 753 566 762 577 761 580 741 589 737 586ZM700 602 719 601 723 583 718 577 700 579 694 594ZM723 583 737 586 741 589 742 596 720 602 719 601ZM727 618 720 602 742 596 745 602 731 618ZM361 627 377 619 377 620 380 633 372 636 365 637ZM360 625 375 614 377 619 361 627ZM393 622 389 618 377 620 380 633 380 633 387 634 391 632ZM400 633 391 632 393 622 397 619 404 623ZM173 661 172 659 161 651 157 659 163 666ZM179 677 178 677 166 674 163 666 173 661 181 668 182 668ZM401 675 397 669 387 681 399 683ZM382 678 383 667 384 661 392 659 397 669 387 681 385 681ZM419 675 429 659 429 657 425 653 410 659 416 673ZM416 673 410 659 407 658 396 656 395 657 392 659 397 669 401 675ZM429 681 420 677 419 675 429 659 438 671 436 680 436 680ZM443 666 438 671 429 659 429 657 440 655ZM688 663 677 680 668 684 666 684 663 682 661 675 670 655 683 656ZM205 681 203 686 197 694 187 679 194 678ZM181 698 177 682 178 677 179 677 187 679 197 694 197 695 186 699ZM305 698 308 687 307 684 301 682 288 688 297 699 301 700ZM285 687 280 702 290 705 297 699 288 688ZM397 700 397 697 385 689 374 695 374 696 394 703ZM401 690 399 683 387 681 385 681 385 689 397 697 400 694ZM401 690 415 685 419 699 400 694ZM401 690 399 683 401 675 416 673 419 675 420 677 415 685ZM668 684 688 699 691 697 694 687 677 680ZM719 695 710 706 704 709 691 697 694 687 703 680 708 681 719 691ZM179 724 193 712 186 699 181 698 174 704ZM186 699 197 695 201 699 199 713 193 712ZM212 700 209 719 221 723 224 721 222 698 220 696 216 697ZM212 700 209 719 208 719 199 713 201 699ZM300 714 301 700 297 699 290 705 292 713 295 714ZM277 709 283 715 292 713 290 705 280 702 278 703ZM286 727 283 725 283 715 292 713 295 714 290 726ZM379 716 369 709 365 697 366 696 368 694 374 695 374 696 383 710ZM379 716 369 709 359 720 359 721 379 717ZM355 702 365 697 369 709 359 720 355 717ZM422 713 417 703 408 712 408 713ZM397 700 397 697 400 694 419 699 419 700 417 703 408 712ZM422 713 408 713 407 715 418 726 423 714ZM262 720 260 728 270 735 272 726 262 720ZM285 728 277 737 273 737 270 735 270 735 272 726 274 726 283 725 286 727ZM263 740 258 737 258 732 260 728 270 735 270 735ZM290 726 295 714 300 714 302 715 299 730 299 730ZM285 728 277 737 283 742 287 739ZM285 728 287 739 293 740 300 734 299 730 290 726 286 727ZM334 735 336 739 347 740 356 734 355 733 345 730 337 731 337 731ZM355 717 359 720 359 721 360 727 355 733 345 730 348 717ZM341 714 348 717 345 730 337 731 338 715ZM475 729 474 720 489 720 490 733 486 736 481 738 479 737 476 731ZM501 728 496 732 490 733 489 720 493 717 502 724ZM501 745 486 736 490 733 496 732 501 745ZM516 740 516 730 517 726 521 724 532 723 534 730 520 743ZM522 746 520 743 534 730 540 735 538 744 524 747ZM661 729 676 726 676 725 662 712 648 717 647 718 644 727 644 728ZM640 739 644 728 661 729 657 748 647 745 640 741ZM198 763 193 751 191 748 191 748 181 751 175 762 177 765ZM173 735 174 741 181 751 191 748 181 728 179 727 177 729ZM277 760 279 760 284 760 285 760 286 752 282 747 275 748 268 752ZM268 752 275 748 273 737 270 735 263 740 265 751ZM283 742 282 747 275 748 273 737 277 737ZM285 760 301 760 299 750 298 750 296 749 286 752ZM287 739 283 742 282 747 286 752 296 749 293 740ZM293 740 296 749 298 750 306 741 304 738 300 734ZM337 770 337 770 347 766 348 762 345 751 338 749 331 754 330 762 332 765ZM313 759 320 763 330 762 331 754 320 748 315 753ZM320 748 320 743 333 735 334 735 336 739 338 749 331 754ZM359 744 356 734 347 740 346 750ZM356 760 348 762 345 751 346 750 359 744 360 745 362 749ZM345 751 346 750 347 740 336 739 338 749ZM397 740 399 739 412 738 413 747 410 751 404 757 395 745 395 744ZM425 755 425 755 419 760 417 759 410 751 413 747ZM417 759 410 751 404 757 403 761 404 762ZM465 761 460 752 450 751 450 763 463 765 463 765ZM445 767 450 763 450 751 445 748 436 760 440 767ZM445 739 445 738 456 734 457 735 461 739 463 743 463 746 460 752 450 751 445 748 444 745ZM463 746 471 749 476 739 463 743ZM471 749 475 756 477 756 483 748 483 744 481 738 479 737 476 739ZM463 746 460 752 465 761 475 756 471 749ZM490 767 494 764 494 756 483 748 477 756 483 763 485 766ZM500 746 483 744 481 738 486 736 501 745ZM494 756 483 748 483 744 500 746ZM519 751 522 766 522 766 511 757ZM503 766 509 757 504 745 501 745 501 745 500 746 494 756 494 764ZM519 751 522 746 520 743 516 740 509 741 504 745 509 757 511 757ZM686 756 687 755 681 739 680 739 663 750 663 763 664 765ZM769 751 760 766 745 761 744 759 750 746 759 738 760 738ZM818 757 827 750 827 739 812 732 807 750ZM202 771 203 771 203 775 200 781 199 783 189 785 183 784 181 778ZM202 771 181 778 181 778 177 767 177 765 198 763 200 765ZM202 771 203 771 217 769 221 766 222 760 219 755 215 751 200 765ZM203 775 216 783 222 780 217 769 203 771ZM309 780 301 778 301 767 304 763 308 762 313 773 311 779 309 780ZM323 776 323 777 320 781 311 779 313 773 320 771 321 773ZM308 762 313 759 320 763 320 771 313 773ZM337 784 337 770 337 770 323 776 323 777 334 786ZM323 776 337 770 332 765 321 773ZM321 773 320 771 320 763 330 762 332 765ZM346 785 351 783 349 770 347 766 337 770 337 784 341 787ZM360 772 361 770 362 765 356 760 348 762 347 766 349 770ZM360 772 362 781 358 784 351 783 349 770ZM383 769 376 766 380 755 387 757 389 758 391 763 391 764ZM404 762 403 761 391 763 391 764 396 776 405 764ZM390 781 396 776 396 776 391 764 383 769 384 779 386 780ZM408 768 410 777 407 780 396 776 396 776 405 764ZM417 759 404 762 405 764 408 768 417 766 419 760ZM417 766 421 770 418 777 410 777 408 768ZM467 766 463 765 465 761 475 756 477 756 483 763ZM478 772 467 766 483 763 485 766ZM472 786 469 786 464 784 461 775 463 765 463 765 467 766 478 772 474 784ZM482 782 490 782 492 781 490 769 481 782ZM474 784 478 772 485 766 490 767 490 769 481 782ZM490 769 490 767 494 764 503 766 503 766 504 778 502 782 497 784 492 781ZM504 778 503 766 517 771 509 779ZM509 779 520 791 525 775 522 772 517 771ZM511 757 509 757 503 766 503 766 517 771 522 772 522 766ZM529 757 539 759 536 766 526 760ZM522 766 526 760 536 766 533 774 525 775 522 772 522 766ZM700 766 706 779 727 775 720 753 717 753 710 757ZM736 780 745 761 744 759 723 751 720 753 727 775ZM800 777 791 755 807 750 807 750 818 757 819 779 801 778ZM189 785 191 797 185 803 177 801 176 799 175 794 183 784ZM199 783 197 796 191 797 189 785ZM237 792 238 799 224 801 222 798 229 781 235 779ZM215 794 222 798 229 781 222 780 216 783ZM248 788 255 793 254 800 248 802 241 802 238 799 237 792ZM248 788 237 792 235 779 237 776ZM248 774 259 785 255 793 248 788 237 776 237 776ZM269 780 259 785 255 793 254 800 260 803 261 803 269 794ZM281 798 273 807 271 807 261 803 269 794 282 795 282 796ZM271 778 273 779 281 785 282 795 269 794 269 780 270 778ZM316 792 321 790 320 781 311 779 309 780ZM299 779 301 778 309 780 305 794 305 794 302 793ZM305 794 309 780 309 780 316 792 315 794 310 795ZM334 786 323 777 320 781 321 790 328 791ZM316 792 321 790 328 791 329 799 318 800 316 795 315 794ZM342 794 341 787 337 784 334 786 328 791 329 799 332 804 334 806 342 795ZM353 796 346 785 351 783 358 784 360 797 358 799ZM353 796 346 785 341 787 342 794ZM355 804 353 805 351 804 342 795 342 794 353 796 358 799 358 801ZM368 796 360 797 358 784 362 781 370 781 372 782 370 792ZM380 794 375 783 372 782 370 792ZM375 802 368 796 370 792 380 794 384 798 384 798 380 802ZM399 795 390 781 386 780 384 798 384 798 385 798ZM384 798 386 780 384 779 375 783 380 794ZM403 796 406 792 407 780 396 776 390 781 399 795ZM475 788 477 809 476 810 468 795 469 786 472 786ZM463 802 468 795 469 786 464 784 456 788 452 794ZM485 795 488 799 487 805 477 809 475 788ZM691 793 676 788 675 781 700 766 700 766 706 779 706 782ZM696 812 691 793 706 782 719 799 701 813 698 813ZM719 799 721 800 734 789 737 782 736 780 727 775 706 779 706 782ZM760 786 760 792 782 803 783 802 779 779 775 776 767 777ZM804 809 816 800 820 793 821 781 819 779 801 778 790 802ZM210 795 204 800 205 807 220 811 224 801 222 798 215 794ZM220 811 205 807 200 813 209 820 221 819 222 817ZM240 824 225 817 239 810 241 819ZM225 817 222 817 220 811 224 801 238 799 241 802 239 810ZM254 820 258 820 260 803 254 800 248 802 249 816ZM241 819 239 810 241 802 248 802 249 816ZM241 827 240 824 241 819 249 816 254 820 243 828ZM271 807 261 803 260 803 258 820 262 824 267 825 271 808ZM271 807 273 807 287 817 280 827 271 808ZM271 808 267 825 267 825 274 828 279 829 280 827ZM305 794 305 794 301 805 310 812 310 795ZM310 795 310 812 311 814 316 795 315 794ZM311 815 318 806 318 800 316 795 311 814ZM327 821 311 816 311 815 318 806 332 804 334 806 335 808ZM332 804 318 806 318 800 329 799ZM346 817 347 820 347 820 339 828 331 826 328 824 327 821 335 808 335 808ZM360 815 356 820 347 820 346 817 353 805 355 804ZM351 804 342 795 334 806 335 808 335 808ZM353 805 346 817 335 808 351 804ZM369 814 370 815 378 817 381 816 380 802 375 802 369 808ZM369 808 375 802 368 796 360 797 358 799 358 801ZM360 815 355 804 358 801 369 808 369 814 363 815ZM381 816 385 817 391 814 391 813 385 798 384 798 380 802ZM404 798 391 813 385 798 399 795 403 796ZM401 819 399 819 391 814 391 813 404 798 406 802ZM414 813 421 819 425 817 424 813 418 803 410 804ZM419 822 421 819 414 813 404 821 406 823ZM404 821 414 813 410 804 406 802 401 819ZM435 817 446 805 446 804 430 801ZM424 813 428 799 430 801 435 817 435 817 425 817ZM418 803 427 798 428 799 424 813ZM470 821 461 819 467 809 476 810 475 814ZM463 802 468 795 476 810 476 810 467 809 463 806ZM463 806 467 809 461 819 457 820 457 808ZM569 802 569 802 588 807 588 810 586 818 583 822 572 818ZM567 802 555 817 559 821 571 818 572 818 569 802ZM696 812 682 814 674 812 669 799 676 788 691 793ZM241 827 240 824 225 817 222 817 221 819 220 832 240 829ZM219 842 238 838 240 829 220 832 217 837ZM241 827 243 828 246 830 251 841 247 847 245 848 241 846 238 838 240 829ZM246 830 258 829 258 839 258 839 251 841ZM243 828 254 820 258 820 262 824 258 829 246 830ZM258 839 262 839 267 825 267 825 262 824 258 829ZM263 839 274 828 279 829 281 833 281 838 277 842 268 843ZM262 839 267 825 274 828 263 839ZM297 831 300 838 298 845 297 846 296 846 285 841 281 838 281 833 295 830ZM289 816 288 816 287 817 280 827 279 829 281 833 295 830 296 818ZM296 818 295 830 297 831 309 823 309 819ZM341 830 333 841 337 843 347 838ZM328 824 320 835 328 842 330 841 331 826ZM331 826 330 841 333 841 341 830 339 828ZM367 832 367 833 362 843 361 844 349 840 347 838 353 830 359 828ZM339 828 341 830 347 838 347 838 353 830 347 820ZM356 820 359 828 353 830 347 820 347 820ZM370 815 367 831 367 832 367 833 375 832 376 831 378 817ZM363 815 367 831 370 815 369 814ZM360 815 356 820 359 828 367 832 367 831 363 815ZM381 816 385 817 388 830 376 831 378 817ZM388 830 376 831 375 832 381 844 382 845 394 840 394 835 392 832ZM388 830 385 817 391 814 399 819 392 832ZM414 836 414 838 397 843 394 840 394 835 407 830ZM414 836 407 830 406 823 419 822 420 833ZM406 823 404 821 401 819 399 819 392 832 394 835 407 830ZM611 814 615 811 616 811 632 823 618 830 611 815ZM632 823 637 824 640 827 640 828 639 837 619 839 616 836 618 830ZM666 832 667 835 664 839 641 842 641 842 639 837 640 828ZM666 832 640 828 640 827 650 819 656 818 666 822ZM696 812 682 814 680 835 695 835 698 813ZM196 860 201 855 183 850 182 854 184 859ZM202 854 201 855 183 850 184 844 198 838 198 838ZM246 868 255 861 245 849 241 859 243 868ZM257 851 247 847 245 848 245 849 255 861 258 860ZM261 849 258 839 251 841 247 847 257 851ZM261 849 257 851 258 860 259 860 268 855 264 849ZM264 849 268 843 277 842 274 854 272 856 268 855ZM261 849 258 839 258 839 262 839 263 839 268 843 264 849ZM289 857 296 846 297 846 299 851 300 866 300 867 299 866ZM283 858 285 841 281 838 277 842 274 854 278 857ZM285 859 283 858 285 841 296 846 289 857ZM315 863 306 855 299 851 300 866 311 866ZM306 855 314 846 312 844 298 845 297 846 299 851ZM317 862 318 850 314 846 306 855 315 863ZM336 856 326 847 328 842 330 841 333 841 337 843 338 855ZM328 842 320 835 314 837 312 844 314 846 318 850 326 847ZM336 856 336 856 321 863 318 863 317 862 318 850 326 847ZM360 852 345 851 349 840 361 844ZM347 838 349 840 345 851 342 855 338 855 337 843 347 838ZM360 852 345 851 342 855 348 860 359 857 360 856ZM379 858 381 856 382 845 381 844 367 845ZM367 845 381 844 375 832 367 833 362 843ZM379 858 367 845 362 843 361 844 360 852 360 856 378 861ZM426 860 420 857 424 851 427 849 437 851 438 861ZM414 836 414 838 415 842 424 851 427 849 426 835 420 833ZM426 835 427 849 437 851 439 849 440 846 433 837 427 834ZM542 852 539 864 524 862 538 849ZM538 849 524 862 523 862 516 852 521 846 532 842 535 843ZM553 836 558 839 556 844 544 852 542 852 538 849 535 843 546 835ZM544 852 555 864 561 865 561 865 556 844ZM583 830 575 837 593 846 585 831ZM575 837 593 846 596 850 595 852 595 852 585 853 572 842 571 840ZM650 860 647 852 662 843 663 857 652 860ZM664 839 641 842 647 852 662 843ZM675 838 667 835 664 839 662 843 663 857 677 861 679 858ZM675 838 679 858 701 852 702 844 695 835 680 835ZM701 852 704 855 725 862 729 860 722 835 721 834 702 844ZM192 874 202 876 207 869 197 863ZM187 875 192 874 197 863 196 860 184 859 183 869 186 874ZM318 863 320 875 312 874 311 866 315 863 317 862ZM320 875 323 878 319 885 312 881 311 880 312 874ZM300 880 305 881 311 880 312 874 311 866 300 866 300 867 298 873 299 879ZM336 856 337 871 329 872 321 863ZM326 877 334 886 340 879 341 876 339 873 337 871 329 872ZM318 863 321 863 329 872 326 877 323 878 320 875ZM348 864 339 873 341 876 358 876 358 874ZM359 857 360 869 358 874 348 864 348 860ZM336 856 336 856 337 871 339 873 348 864 348 860 342 855 338 855ZM358 874 358 876 358 876 363 878 379 867 378 865 360 869ZM380 870 379 867 363 878 364 878 365 878 377 878 380 870ZM378 861 378 865 360 869 359 857 360 856ZM417 880 422 875 415 865 408 866 407 874ZM416 880 401 878 407 874 417 880ZM398 867 399 879 401 878 407 874 408 866 402 865ZM578 862 584 869 593 863 595 852 585 853ZM603 876 593 863 584 869 584 879 588 882 601 878ZM639 877 635 866 635 866 649 861 647 879ZM653 885 661 887 662 886 664 884 652 860 650 860 649 861 647 879ZM679 858 677 861 678 876 698 883 700 882 704 855 701 852ZM704 855 725 862 719 878 700 882ZM738 861 745 874 737 887 721 880 719 878 725 862 729 860ZM228 883 234 875 236 875 240 881 237 899 234 900ZM224 885 218 903 220 904 227 903 234 900 228 883ZM300 880 299 883 289 889 292 881 299 879ZM289 889 287 894 278 889 279 875 280 875 282 875 292 881ZM299 883 300 895 289 897 287 894 289 889ZM300 880 305 881 306 894 305 896 302 896 300 895 299 883ZM312 881 319 885 319 886 319 892 318 895 308 897 305 896 306 894ZM312 881 306 894 305 881 311 880ZM334 886 335 891 319 892 319 886ZM318 895 324 903 337 895 335 891 319 892ZM326 877 334 886 334 886 319 886 319 885 323 878ZM340 879 334 886 334 886 335 891 337 895 341 897 350 892 350 890ZM366 901 366 901 369 898 357 879 350 890 350 892 359 899ZM358 876 341 876 340 879 350 890 357 879 358 876ZM700 898 698 883 700 882 719 878 721 880 718 903ZM754 875 757 902 757 902 770 899 778 891 778 888 772 876 764 872ZM778 891 796 902 803 898 804 882 801 874 778 888ZM816 896 822 885 804 882 803 898 811 900ZM234 900 237 899 239 900 246 909 245 910 234 918 227 903ZM227 903 234 918 234 921 222 926 220 904ZM318 910 310 912 308 897 318 895 324 903 324 904ZM301 909 302 896 305 896 308 897 310 912 307 917 302 912ZM325 924 325 925 307 917 307 917 310 912 318 910ZM328 909 341 913 343 909 341 897 337 895 324 903 324 904ZM325 924 328 909 324 904 318 910ZM325 924 325 925 326 926 327 926 340 923 341 920 341 913 328 909ZM366 901 360 914 345 909 359 899ZM360 914 360 915 355 919 341 920 341 913 343 909 345 909ZM359 899 350 892 341 897 343 909 345 909ZM560 901 566 892 576 902 577 908 562 908ZM562 908 577 908 582 914 582 919 581 919 578 924 566 925 558 916ZM643 908 647 906 655 913 653 922 639 927 637 924ZM661 887 662 886 668 900 660 912 655 913 647 906 647 905ZM801 925 794 916 796 902 803 898 811 900 820 918 818 919ZM833 917 820 918 811 900 816 896 840 904ZM198 922 191 940 187 942 186 942 185 922 185 922ZM203 932 201 936 191 940 198 922 201 921ZM220 932 221 935 221 936 220 938 209 946 201 936 203 932ZM221 927 204 917 201 921 203 932 220 932ZM328 943 327 946 315 946 315 945 324 927 326 926 327 926 328 932ZM328 943 340 936 328 932ZM328 932 327 926 340 923 344 930 343 936 340 936ZM340 923 344 930 354 930 355 919 341 920ZM345 943 343 936 344 930 354 930 357 932 359 938 348 943ZM365 925 366 922 360 915 355 919 354 930 357 932ZM382 920 379 937 375 938 371 921 381 920ZM365 925 366 922 367 922 371 921 375 938 374 938ZM365 925 374 938 367 944 359 938 357 932ZM572 939 559 936 566 925 578 924 579 928ZM575 946 572 939 579 928 584 935ZM699 918 676 928 676 932 684 940 692 939 705 932 703 924ZM724 909 726 920 712 935 705 932 703 924ZM378 956 385 949 383 938 379 937 375 938 374 938 367 944 367 947ZM372 968 359 956 367 947 378 956 379 964 379 965ZM684 940 680 962 665 959 660 946 670 934 676 932ZM692 939 702 956 693 965 681 964 680 962 684 940ZM717 943 718 954 702 956 692 939 705 932 712 935ZM643 965 661 968 665 959 647 962ZM643 965 661 968 657 980 647 981 643 965ZM680 962 665 959 665 959 661 968 657 980 667 985 677 981 681 964ZM184 991 179 1002 156 991 157 987 174 982ZM184 991 204 997 201 984 194 977 192 978ZM705 982 706 982 722 979 724 980 724 986 717 1016 701 993ZM169 1018 150 999 156 991 179 1002 179 1015ZM184 991 204 997 205 997 205 1010 182 1017 179 1015 179 1002 184 991ZM299 1028 319 1023 320 1003 304 1000 297 1024ZM337 1026 325 1028 319 1023 320 1003 325 1001 327 1001 341 1021ZM494 1017 488 1017 485 1014 485 996 486 994 505 999ZM547 999 538 1016 541 1024 568 1018 548 1000ZM297 1037 307 1044 322 1041 325 1028 319 1023 299 1028ZM337 1026 325 1028 322 1041 325 1045 341 1036ZM506 1027 505 1032 494 1041 489 1042 480 1033 488 1017 494 1017ZM538 1037 538 1036 541 1024 568 1018 571 1018 572 1019 564 1043 546 1043ZM616 1037 599 1049 595 1027 600 1024 613 1026 619 1031ZM653 1022 651 1017 636 1004 635 1005 627 1031 636 1036ZM839 1035 841 1013 839 1010 823 1027 824 1033ZM616 1037 599 1049 597 1052 601 1060 617 1065 622 1057ZM636 1037 636 1036 627 1031 619 1031 616 1037 622 1057 634 1051ZM661 1047 636 1037 634 1051 647 1062 657 1062 661 1058 662 1050ZM226 1081 239 1076 242 1064 238 1058 224 1055 220 1057 217 1078ZM623 1077 617 1065 601 1060 589 1077 614 1097 615 1096ZM647 1062 629 1076 623 1077 617 1065 622 1057 634 1051ZM917 1050 898 1061 898 1061 907 1071 923 1075 930 1060 930 1058ZM1004 1060 1004 1085 983 1074 988 1063 992 1060ZM1004 1060 1004 1085 1005 1089 1017 1088 1021 1078 1004 1060 1004 1060ZM643 1084 629 1076 623 1077 615 1096 638 1106 645 1100ZM856 1082 862 1100 875 1100 879 1095 878 1093 857 1082ZM879 1095 896 1097 898 1095 898 1093 886 1066 882 1067 878 1093ZM907 1071 898 1093 898 1095 914 1097 920 1092 925 1079 923 1075ZM925 1079 920 1092 936 1102 942 1094 931 1081ZM1004 1085 983 1074 978 1080 989 1099 1002 1093 1005 1089ZM1005 1089 1002 1093 1019 1117 1019 1117 1026 1096 1017 1088ZM1021 1078 1035 1073 1043 1080 1041 1092 1026 1096 1017 1088ZM215 1103 217 1114 220 1116 233 1117 234 1116 236 1105 227 1099ZM1046 1100 1045 1118 1019 1117 1026 1096 1041 1092ZM220 1116 213 1153 215 1158 228 1153 234 1142 233 1117ZM234 1116 260 1121 260 1121 254 1130 234 1142 233 1117ZM864 1139 843 1137 839 1152 866 1171ZM866 1171 879 1193 879 1193 880 1204 827 1160 839 1152Z"/>
</defs><g transform="scale(0.5)">
<use href="#pG" fill="#68a288"/>
<use href="#pM" fill="#cdebe0"/>
<use href="#pY" fill="#f2d27b"/>
<use href="#pB" fill="#b77a4c"/>
<use href="#pD" fill="#71462a"/>
<use href="#pG" fill="none" stroke="#626a66" stroke-opacity="0.85" stroke-width="1.0"/>
<use href="#pM" fill="none" stroke="#626a66" stroke-opacity="0.85" stroke-width="1.0"/>
<use href="#pY" fill="none" stroke="#626a66" stroke-opacity="0.85" stroke-width="1.0"/>
<use href="#pB" fill="none" stroke="#626a66" stroke-opacity="0.85" stroke-width="1.0"/>
<use href="#pD" fill="none" stroke="#626a66" stroke-opacity="0.85" stroke-width="1.0"/>
</g>
</g>
<polygon points="182.4,174.4 184.4,171.7 198.3,170.3 201.1,173.1 202.5,177.2 206.7,180.0 209.4,174.4 215.7,170.3 216.4,180.0 215.7,185.6 215.7,199.4 219.2,206.4 226.1,213.3 235.8,224.4 240.0,227.2 253.9,224.4 262.2,227.2 263.6,213.3 266.4,211.9 281.7,209.2 295.6,204.3 301.1,206.4 305.3,205.0 312.2,211.9 312.2,221.7 311.5,229.0 316.7,229.4 322.2,232.2 323.3,238.9 325.6,243.3 330.0,243.3 334.4,245.6 340.0,243.3 344.4,235.6 340.0,227.8 333.3,217.8 332.2,211.1 336.7,203.3 341.7,200.0 342.2,195.6 337.2,189.7 331.7,192.5 324.7,191.1 320.6,186.9 321.9,182.8 320.6,171.7 321.9,161.9 328.9,155.0 331.7,143.9 340.0,142.5 345.6,139.7 355.3,136.9 359.4,143.9 356.7,150.8 363.6,155.0 367.8,159.2 387.2,159.2 395.6,166.1 398.3,173.1 409.4,174.4 419.2,180.0 424.7,188.3 426.1,199.4 420.6,202.2 412.2,207.8 405.3,214.7 412.2,216.1 416.4,221.7 417.8,230.0 417.8,238.3 415.0,246.7 410.8,253.6 413.6,257.8 412.2,266.1 410.8,273.1 403.9,280.0 399.7,288.3 401.1,296.7 395.6,298.1 394.2,305.0 396.9,310.6 401.1,313.3 402.5,321.7 399.7,330.0 403.9,336.9 405.3,343.9 409.4,349.4 410.8,356.4 417.8,355.0 426.1,352.2 431.7,346.7 440.0,343.9 450.0,345.0 463.8,346.2 457.5,355.0 445.0,375.0 435.0,390.0 427.5,405.0 427.5,435.0 430.0,447.5 436.2,450.0 442.8,455.0 441.4,461.9 440.0,466.1 441.4,474.4 442.8,481.4 448.3,482.8 453.9,479.3 465.0,489.7 473.3,496.7 481.7,500.8 483.1,507.8 491.4,510.6 492.8,518.9 501.1,521.7 502.5,527.2 503.9,533.3 510.8,534.7 512.2,530.6 518.1,527.8 529.2,531.9 525.0,544.4 540.3,545.8 541.7,551.4 547.2,555.6 552.8,559.7 561.1,565.3 569.4,569.4 569.4,572.2 561.1,572.2 541.7,575.0 533.3,572.2 520.8,576.4 510.8,569.4 501.1,569.4 485.8,576.4 473.3,580.6 467.8,577.8 448.3,572.2 440.0,566.7 437.2,565.6 434.4,568.3 426.1,576.7 420.6,582.2 412.2,582.2 399.7,578.1 391.4,573.9 387.2,568.3 381.7,565.6 377.5,568.3 367.8,562.8 359.4,557.2 348.3,551.7 340.0,548.9 336.7,551.1 327.8,553.3 318.9,542.2 314.4,530.0 304.4,528.9 298.9,533.3 292.2,532.2 290.0,538.9 284.4,541.1 281.1,545.6 278.9,537.8 272.2,531.1 267.8,537.8 261.1,544.4 246.7,536.7 234.4,532.2 231.7,538.3 223.3,535.6 212.2,535.6 201.1,543.9 199.7,555.0 195.6,560.6 192.8,568.9 185.8,575.8 184.4,580.0 188.6,591.1 195.6,593.9 198.3,605.0 192.8,613.3 188.6,620.3 191.4,630.0 191.4,636.4 180.3,637.8 176.1,640.6 169.2,639.2 170.6,630.0 169.2,627.2 165.0,618.9 162.2,610.6 160.8,605.0 152.5,607.8 146.9,605.0 141.4,598.1 142.8,592.5 140.0,585.6 137.2,583.6 130.3,580.8 127.5,572.5 123.3,561.7 117.8,558.9 115.0,550.6 105.3,547.8 99.7,554.7 92.8,556.1 81.7,553.3 70.6,550.6 66.4,542.2 65.0,533.9 58.1,525.6 49.7,514.4 51.1,508.9 46.9,497.8 48.3,489.4 42.8,483.9 45.6,479.7 48.3,470.0 55.0,466.0 65.0,467.0 71.9,470.0 73.3,478.3 80.3,483.9 85.8,479.7 83.0,475.6 88.6,470.0 91.2,460.6 102.5,458.7 101.1,453.3 98.3,445.0 95.6,436.7 88.6,431.1 81.7,425.6 81.7,417.2 77.5,411.7 78.9,403.3 71.9,396.4 74.7,389.4 67.8,383.9 69.2,378.3 59.4,370.0 53.2,361.7 52.5,354.7 56.7,347.8 59.4,339.4 55.3,331.1 56.7,325.6 65.0,315.8 77.5,303.3 81.7,300.6 84.4,293.6 81.0,283.9 80.3,278.3 85.8,271.4 87.2,271.4 98.3,276.9 106.7,283.9 105.3,284.2 98.3,296.7 95.6,303.6 106.7,310.6 110.8,316.1 115.0,321.7 119.2,332.8 121.9,338.3 127.5,343.9 131.7,348.1 137.2,348.1 140.0,342.5 142.8,335.6 141.4,325.8 137.2,318.9 131.7,310.6 135.8,303.6 135.8,292.5 142.8,286.9 148.3,280.0 145.6,278.6 146.9,270.3 153.9,267.5 160.8,260.6 169.2,253.6 171.9,243.9 177.5,241.1 180.3,230.0 181.7,227.2 185.8,218.9 184.4,213.3 181.7,202.2 181.7,193.9 177.5,191.1 177.5,186.9" fill="none" stroke="#5f7d6f" stroke-width="0.8"/>
</svg>

<!-- map legend -->
<div class="a" style="left:80px;top:652px;font-size:13px;color:#7a7a7a;line-height:14px">Densità di emissione in:kg/km2</div>
<div class="a" style="left:438px;top:648px;font-size:10px;color:#444;line-height:11px">Max</div>
<div class="a" style="left:81px;top:668.5px;width:78.5px;height:19.5px;background:#6b9e83"></div>
<div class="a" style="left:159.5px;top:668.5px;width:72.5px;height:19.5px;background:#bfe6d6"></div>
<div class="a" style="left:232px;top:668.5px;width:74px;height:19.5px;background:#f5dc94"></div>
<div class="a" style="left:306px;top:668.5px;width:73px;height:19.5px;background:#b87a4e"></div>
<div class="a" style="left:379px;top:668.5px;width:82px;height:19.5px;background:#7b5237"></div>
<div class="a" style="left:81px;top:672px;width:73px;font-size:12.5px;line-height:14px;color:#1e2a24;text-align:right">0,06</div>
<div class="a" style="left:159.5px;top:672px;width:67px;font-size:12.5px;line-height:14px;color:#1e2a24;text-align:right">0,15</div>
<div class="a" style="left:232px;top:672px;width:68.5px;font-size:12.5px;line-height:14px;color:#1e2a24;text-align:right">0,34</div>
<div class="a" style="left:306px;top:672px;width:67.5px;font-size:12.5px;line-height:14px;color:#1e2a24;text-align:right">0,82</div>
<div class="a" style="left:379px;top:672px;width:78px;font-size:12.5px;line-height:14px;color:#1e2a24;text-align:right">148,00</div>

<!-- bar chart -->
<div class="a" style="left:594.7px;top:43.2px;width:51px;height:282.1px;background:#c8c8c8"></div>
<div class="a" style="left:594.7px;top:325.3px;width:51px;height:65.1px;background:#ee9f67"></div>
<div class="a" style="left:594.7px;top:390.4px;width:51px;height:223.8px;background:#754b2f"></div>
<div class="a" style="left:594.7px;top:614.2px;width:51px;height:2.8px;background:#4a5a8a"></div>
<div class="a" style="left:648.8px;top:373.6px;width:51px;height:233.1px;background:#c8c8c8"></div>
<div class="a" style="left:648.8px;top:606.7px;width:51px;height:8.3px;background:#ecc84a"></div>
<div class="a" style="left:648.8px;top:615px;width:51px;height:2px;background:#6bb860"></div>
<div class="a" style="left:702.9px;top:455.5px;width:51px;height:161.5px;background:#c8c8c8"></div>
<div class="a" style="left:757px;top:588.7px;width:51px;height:28.3px;background:#c8c8c8"></div>
<div class="a" style="left:811.1px;top:592.4px;width:51px;height:24.6px;background:#754b2f"></div>
<div class="a" style="left:865.2px;top:608px;width:51px;height:7.5px;background:#754b2f"></div>
<div class="a" style="left:865.2px;top:615.5px;width:51px;height:1.5px;background:#4d5a58"></div>
<div class="a" style="left:919.3px;top:614.3px;width:51px;height:2.7px;background:#2f5a2e"></div>
<div class="a" style="left:973.4px;top:616px;width:51px;height:1.2px;background:#f3e4b0"></div>
<div class="a" style="left:1027.5px;top:616.2px;width:51px;height:1px;background:#eeeeee"></div>

<div class="a bv" style="left:580.2px;top:23px">54,96%</div>
<div class="a bv" style="left:634.3px;top:354px">23,31%</div>
<div class="a bv" style="left:688.4px;top:436px">15,47%</div>
<div class="a bv" style="left:742.5px;top:569px">2,71%</div>
<div class="a bv" style="left:796.6px;top:572.5px">2,36%</div>
<div class="a bv" style="left:850.7px;top:588.5px">0,86%</div>
<div class="a bv" style="left:904.8px;top:594.5px">0,26%</div>
<div class="a bv" style="left:958.9px;top:596.5px">0,04%</div>
<div class="a bv" style="left:1013px;top:596.5px">0,03%</div>
<div class="a bv" style="left:1067.1px;top:596.5px">0,00%</div>

<div class="a iv" style="left:594.7px;top:178.5px">27,02%</div>
<div class="a iv" style="left:594.7px;top:352px">6,24%</div>
<div class="a iv" style="left:594.7px;top:497px">21,44%</div>
<div class="a iv" style="left:648.8px;top:485px">22,33%</div>
<div class="a iv" style="left:702.9px;top:531px">15,47%</div>
<div class="a iv" style="left:757px;top:597.5px">2,71%</div>
<div class="a iv" style="left:811.1px;top:599px">2,36%</div>

<div class="a cat" style="left:590.2px;top:629px">03 -<br>Combu...<br>nell'ind...</div>
<div class="a cat" style="left:644.3px;top:629px">07 -<br>Trasporto<br>su strada</div>
<div class="a cat" style="left:698.4px;top:629px">04 -<br>Processi<br>produtt...</div>
<div class="a cat" style="left:752.5px;top:629px">11 - Altre<br>sorgenti<br>e<br>assorbi...</div>
<div class="a cat" style="left:806.6px;top:629px">02 -<br>Combu...<br>non<br>industri...</div>
<div class="a cat" style="left:860.7px;top:629px">01 -<br>Produzi...<br>energia e<br>trasfor...<br>combu...</div>
<div class="a cat" style="left:914.8px;top:629px">09 -<br>Trattam...<br>e<br>smaltim...<br>rifiuti</div>
<div class="a cat" style="left:968.9px;top:629px">08 - Altre<br>sorgenti<br>mobili e<br>macchi...</div>
<div class="a cat" style="left:1023px;top:629px">10 -<br>Agricolt...</div>
<div class="a cat" style="left:1077.1px;top:629px">06 - Uso<br>di<br>solventi</div>

<!-- pie -->
<svg class="a" style="left:0;top:0" width="1280" height="720">
<g id="pie"></g>
<path d="M986.5,170.5 L986.50,86.50 A84,84 0 0 1 988.70,86.53 Z" fill="#2e5b2f"/>
<path d="M986.5,170.5 L988.70,86.53 A84,84 0 0 1 990.90,86.62 Z" fill="#6fa8c8"/>
<path d="M986.5,170.5 L990.90,86.62 A84,84 0 0 1 991.99,86.68 Z" fill="#3d6b40"/>
<path d="M986.5,170.5 L991.99,86.68 A84,84 0 0 1 995.67,87.00 Z" fill="#ecc94b"/>
<path d="M986.5,170.5 L995.67,87.00 A84,84 0 0 1 1070.26,176.80 Z" fill="#764c2e"/>
<path d="M986.5,170.5 L1070.26,176.80 A84,84 0 0 1 1061.48,208.37 Z" fill="#ef9f66"/>
<path d="M986.5,170.5 L1061.48,208.37 A84,84 0 1 1 986.50,86.50 Z" fill="#c8c8c8"/>
<polyline points="987,84.5 987,75.5 999,75.5" fill="none" stroke="#7b7b7b" stroke-width="1.2"/>
<polyline points="1053.3,114.5 1059.5,109.3 1071,109.3" fill="none" stroke="#7b7b7b" stroke-width="1.2"/>
<polyline points="1067.3,201.5 1073.6,204.2 1086.5,204.2" fill="none" stroke="#7b7b7b" stroke-width="1.2"/>
<polyline points="990,257.3 990,266 1001.7,266" fill="none" stroke="#7b7b7b" stroke-width="1.2"/>
</svg>
<div class="a pl" style="left:1004px;top:68px">Altro 0,35%</div>
<div class="a pl" style="left:1075px;top:95px">Legna e ...<br>24,45%</div>
<div class="a pl" style="left:1091px;top:190px">Metano<br>6,25%</div>
<div class="a pl" style="left:1006.5px;top:251px">Senza combustibile<br>67,56%</div>

<!-- legend -->
<div class="a" style="left:1154.5px;top:231.5px;font-size:11px;font-weight:normal;-webkit-text-stroke:0.35px #605e5c;color:#605e5c;line-height:12px">Combustibile</div>
<div class="dot" style="left:1155px;top:251.0px;background:#2f5a2e"></div>
<div class="a lg" style="left:1166.5px;top:250.7px">Altro</div>
<div class="dot" style="left:1155px;top:273.4px;background:#6bb85e"></div>
<div class="a lg" style="left:1166.5px;top:273.1px">Benzina</div>
<div class="dot" style="left:1155px;top:295.7px;background:#3f4f8c"></div>
<div class="a lg" style="left:1166.5px;top:295.4px">Carbone</div>
<div class="dot" style="left:1155px;top:318.1px;background:#ecc846"></div>
<div class="a lg" style="left:1166.5px;top:317.8px">Diesel</div>
<div class="dot" style="left:1155px;top:340.4px;background:#d24b45"></div>
<div class="a lg" style="left:1166.5px;top:340.1px">Gas di raffineria</div>
<div class="dot" style="left:1155px;top:362.8px;background:#6aaee0"></div>
<div class="a lg" style="left:1166.5px;top:362.4px">Gasolio</div>
<div class="dot" style="left:1155px;top:385.1px;background:#8c63d6"></div>
<div class="a lg" style="left:1166.5px;top:384.8px">GPL</div>
<div class="dot" style="left:1155px;top:407.5px;background:#764c2e"></div>
<div class="a lg" style="left:1166.5px;top:407.2px">Legna e similari</div>
<div class="dot" style="left:1155px;top:429.8px;background:#ef9c63"></div>
<div class="a lg" style="left:1166.5px;top:429.5px">Metano</div>
<div class="dot" style="left:1155px;top:452.1px;background:#111111"></div>
<div class="a lg" style="left:1166.5px;top:451.8px">Olio combustibile</div>
<div class="dot" style="left:1155px;top:474.5px;background:#c8c8c8"></div>
<div class="a lg" style="left:1166.5px;top:474.2px">Senza combustibile</div>
</body></html>
